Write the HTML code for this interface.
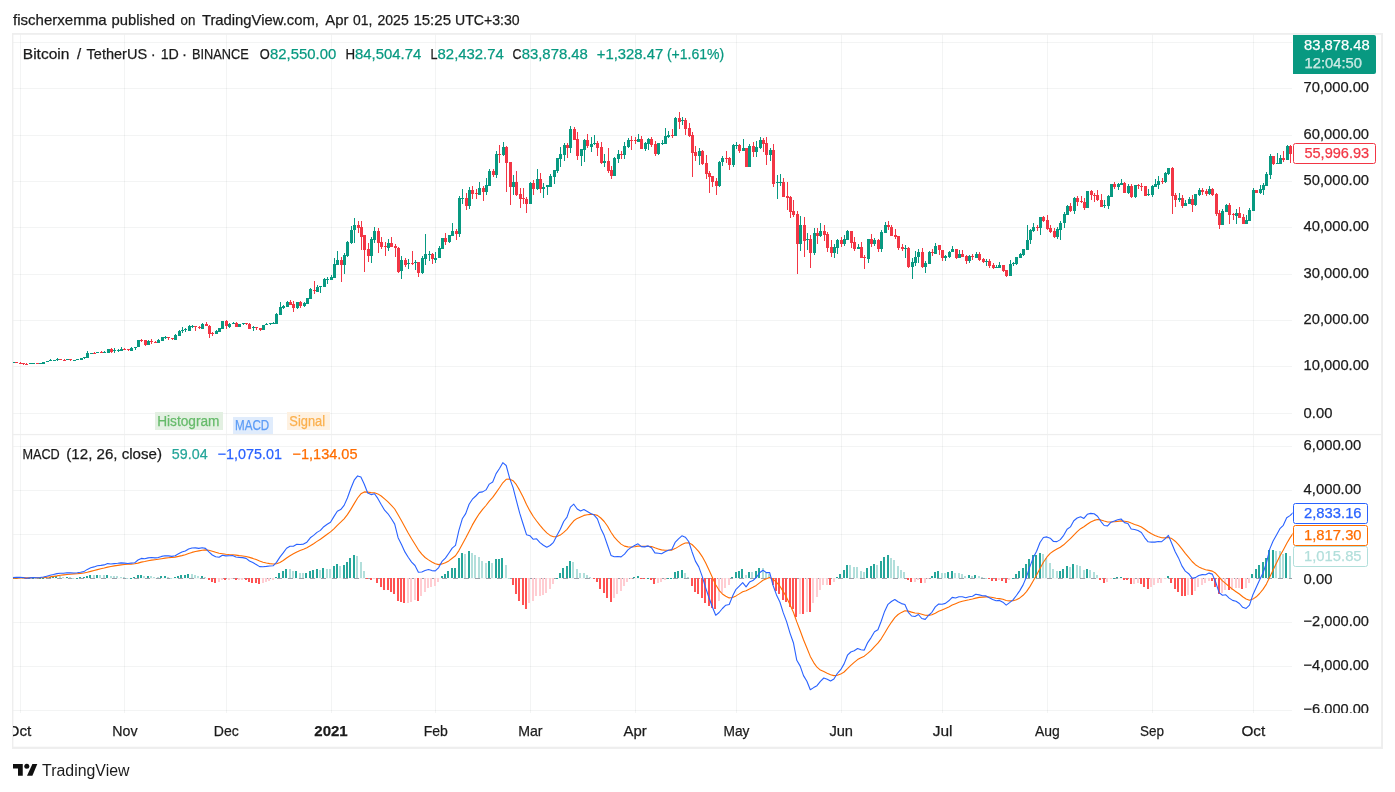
<!DOCTYPE html>
<html><head><meta charset="utf-8"><title>BTCUSDT chart</title><style>html,body{margin:0;padding:0;background:#fff}svg{display:block}</style></head><body>
<svg width="1395" height="792" viewBox="0 0 1395 792" font-family='"Liberation Sans", "DejaVu Sans", sans-serif'>
<rect width="1395" height="792" fill="#fff"/>
<text x="13" y="25" font-size="15" fill="#1b1b1b" stroke="#1b1b1b" stroke-width="0.25" textLength="93.6" lengthAdjust="spacingAndGlyphs">fischerxemma</text>
<text x="111.6" y="25" font-size="15" fill="#1b1b1b" stroke="#1b1b1b" stroke-width="0.25" textLength="63.4" lengthAdjust="spacingAndGlyphs">published</text>
<text x="180.6" y="25" font-size="15" fill="#1b1b1b" stroke="#1b1b1b" stroke-width="0.25" textLength="14.8" lengthAdjust="spacingAndGlyphs">on</text>
<text x="201.9" y="25" font-size="15" fill="#1b1b1b" stroke="#1b1b1b" stroke-width="0.25" textLength="117" lengthAdjust="spacingAndGlyphs">TradingView.com,</text>
<text x="325.2" y="25" font-size="15" fill="#1b1b1b" stroke="#1b1b1b" stroke-width="0.25" textLength="23.2" lengthAdjust="spacingAndGlyphs">Apr</text>
<text x="353.0" y="25" font-size="15" fill="#1b1b1b" stroke="#1b1b1b" stroke-width="0.25" textLength="19.4" lengthAdjust="spacingAndGlyphs">01,</text>
<text x="377.5" y="25" font-size="15" fill="#1b1b1b" stroke="#1b1b1b" stroke-width="0.25" textLength="31.2" lengthAdjust="spacingAndGlyphs">2025</text>
<text x="413.4" y="25" font-size="15" fill="#1b1b1b" stroke="#1b1b1b" stroke-width="0.25" textLength="37.6" lengthAdjust="spacingAndGlyphs">15:25</text>
<text x="455" y="25" font-size="15" fill="#1b1b1b" stroke="#1b1b1b" stroke-width="0.25" textLength="64.6" lengthAdjust="spacingAndGlyphs">UTC+3:30</text>
<g stroke="#2a2e39" stroke-opacity="0.055" stroke-width="1" shape-rendering="crispEdges">
<line x1="20.5" y1="34" x2="20.5" y2="713"/>
<line x1="124.5" y1="34" x2="124.5" y2="713"/>
<line x1="226.5" y1="34" x2="226.5" y2="713"/>
<line x1="331.5" y1="34" x2="331.5" y2="713"/>
<line x1="435.5" y1="34" x2="435.5" y2="713"/>
<line x1="530.5" y1="34" x2="530.5" y2="713"/>
<line x1="635.5" y1="34" x2="635.5" y2="713"/>
<line x1="736.5" y1="34" x2="736.5" y2="713"/>
<line x1="841.5" y1="34" x2="841.5" y2="713"/>
<line x1="942.5" y1="34" x2="942.5" y2="713"/>
<line x1="1047.5" y1="34" x2="1047.5" y2="713"/>
<line x1="1152.5" y1="34" x2="1152.5" y2="713"/>
<line x1="1253.5" y1="34" x2="1253.5" y2="713"/>
<line x1="13" y1="413.5" x2="1292" y2="413.5"/>
<line x1="13" y1="366.5" x2="1292" y2="366.5"/>
<line x1="13" y1="320.5" x2="1292" y2="320.5"/>
<line x1="13" y1="274.5" x2="1292" y2="274.5"/>
<line x1="13" y1="227.5" x2="1292" y2="227.5"/>
<line x1="13" y1="181.5" x2="1292" y2="181.5"/>
<line x1="13" y1="135.5" x2="1292" y2="135.5"/>
<line x1="13" y1="88.5" x2="1292" y2="88.5"/>
<line x1="13" y1="42.5" x2="1292" y2="42.5"/>
<line x1="13" y1="710.5" x2="1292" y2="710.5"/>
<line x1="13" y1="666.5" x2="1292" y2="666.5"/>
<line x1="13" y1="622.5" x2="1292" y2="622.5"/>
<line x1="13" y1="578.5" x2="1292" y2="578.5"/>
<line x1="13" y1="534.5" x2="1292" y2="534.5"/>
<line x1="13" y1="490.5" x2="1292" y2="490.5"/>
<line x1="13" y1="446.5" x2="1292" y2="446.5"/>
</g>
<g fill="none" stroke="#eeeeee">
</g>
<g fill="#eeeeee"><rect x="12" y="33" width="1371" height="1.8"/><rect x="12" y="746.7" width="1371" height="2.2"/><rect x="12" y="33" width="1.4" height="715.9"/><rect x="1381.1" y="33" width="1.9" height="715.9"/><rect x="13" y="433.9" width="1369" height="1.3"/></g>
<g shape-rendering="crispEdges">
<rect x="13" y="362" width="2" height="1" fill="#089981"/>
<rect x="15" y="362" width="3" height="1" fill="#f23645"/>
<rect x="20" y="362" width="1" height="2" fill="#f23645"/>
<rect x="19" y="363" width="3" height="1" fill="#f23645"/>
<rect x="23" y="363" width="1" height="2" fill="#f23645"/>
<rect x="22" y="363" width="3" height="1" fill="#f23645"/>
<rect x="26" y="363" width="1" height="2" fill="#f23645"/>
<rect x="25" y="364" width="3" height="1" fill="#f23645"/>
<rect x="29" y="363" width="3" height="1" fill="#089981"/>
<rect x="32" y="363" width="3" height="1" fill="#089981"/>
<rect x="36" y="363" width="3" height="1" fill="#f23645"/>
<rect x="39" y="363" width="3" height="1" fill="#089981"/>
<rect x="42" y="362" width="3" height="2" fill="#089981"/>
<rect x="46" y="361" width="3" height="1" fill="#089981"/>
<rect x="50" y="359" width="1" height="2" fill="#089981"/>
<rect x="49" y="360" width="3" height="1" fill="#089981"/>
<rect x="53" y="360" width="3" height="1" fill="#089981"/>
<rect x="57" y="358" width="1" height="3" fill="#089981"/>
<rect x="56" y="359" width="3" height="1" fill="#089981"/>
<rect x="59" y="359" width="3" height="1" fill="#f23645"/>
<rect x="64" y="359" width="1" height="2" fill="#f23645"/>
<rect x="63" y="360" width="3" height="1" fill="#f23645"/>
<rect x="66" y="359" width="3" height="1" fill="#089981"/>
<rect x="70" y="359" width="1" height="2" fill="#f23645"/>
<rect x="69" y="359" width="3" height="1" fill="#f23645"/>
<rect x="73" y="360" width="3" height="1" fill="#089981"/>
<rect x="76" y="359" width="3" height="1" fill="#089981"/>
<rect x="80" y="358" width="3" height="2" fill="#089981"/>
<rect x="84" y="357" width="1" height="2" fill="#089981"/>
<rect x="83" y="357" width="3" height="1" fill="#089981"/>
<rect x="87" y="351" width="1" height="7" fill="#089981"/>
<rect x="86" y="353" width="3" height="5" fill="#089981"/>
<rect x="90" y="353" width="3" height="1" fill="#089981"/>
<rect x="94" y="352" width="1" height="2" fill="#f23645"/>
<rect x="93" y="353" width="3" height="1" fill="#f23645"/>
<rect x="96" y="352" width="3" height="1" fill="#089981"/>
<rect x="101" y="351" width="1" height="2" fill="#f23645"/>
<rect x="100" y="352" width="3" height="1" fill="#f23645"/>
<rect x="104" y="351" width="1" height="2" fill="#089981"/>
<rect x="103" y="352" width="3" height="1" fill="#089981"/>
<rect x="107" y="349" width="3" height="4" fill="#089981"/>
<rect x="111" y="348" width="1" height="5" fill="#f23645"/>
<rect x="110" y="349" width="3" height="3" fill="#f23645"/>
<rect x="114" y="348" width="1" height="5" fill="#089981"/>
<rect x="113" y="350" width="3" height="1" fill="#089981"/>
<rect x="118" y="349" width="1" height="3" fill="#089981"/>
<rect x="117" y="350" width="3" height="1" fill="#089981"/>
<rect x="121" y="347" width="1" height="4" fill="#089981"/>
<rect x="120" y="349" width="3" height="2" fill="#089981"/>
<rect x="124" y="348" width="1" height="2" fill="#f23645"/>
<rect x="123" y="349" width="3" height="1" fill="#f23645"/>
<rect x="128" y="349" width="1" height="2" fill="#f23645"/>
<rect x="127" y="349" width="3" height="1" fill="#f23645"/>
<rect x="131" y="347" width="1" height="4" fill="#089981"/>
<rect x="130" y="348" width="3" height="3" fill="#089981"/>
<rect x="135" y="347" width="1" height="3" fill="#089981"/>
<rect x="134" y="347" width="3" height="1" fill="#089981"/>
<rect x="137" y="340" width="3" height="7" fill="#089981"/>
<rect x="141" y="339" width="1" height="3" fill="#f23645"/>
<rect x="140" y="340" width="3" height="1" fill="#f23645"/>
<rect x="145" y="340" width="1" height="6" fill="#f23645"/>
<rect x="144" y="340" width="3" height="5" fill="#f23645"/>
<rect x="148" y="340" width="1" height="5" fill="#089981"/>
<rect x="147" y="341" width="3" height="4" fill="#089981"/>
<rect x="151" y="339" width="1" height="5" fill="#f23645"/>
<rect x="150" y="341" width="3" height="1" fill="#f23645"/>
<rect x="155" y="341" width="1" height="2" fill="#f23645"/>
<rect x="154" y="342" width="3" height="1" fill="#f23645"/>
<rect x="158" y="339" width="1" height="4" fill="#089981"/>
<rect x="157" y="340" width="3" height="3" fill="#089981"/>
<rect x="161" y="337" width="3" height="4" fill="#089981"/>
<rect x="165" y="336" width="1" height="3" fill="#089981"/>
<rect x="164" y="337" width="3" height="1" fill="#089981"/>
<rect x="168" y="337" width="1" height="3" fill="#f23645"/>
<rect x="167" y="337" width="3" height="1" fill="#f23645"/>
<rect x="172" y="338" width="1" height="2" fill="#f23645"/>
<rect x="171" y="338" width="3" height="1" fill="#f23645"/>
<rect x="175" y="334" width="1" height="6" fill="#089981"/>
<rect x="174" y="335" width="3" height="5" fill="#089981"/>
<rect x="179" y="330" width="1" height="6" fill="#089981"/>
<rect x="178" y="331" width="3" height="5" fill="#089981"/>
<rect x="182" y="327" width="1" height="6" fill="#089981"/>
<rect x="181" y="330" width="3" height="1" fill="#089981"/>
<rect x="185" y="328" width="1" height="4" fill="#089981"/>
<rect x="184" y="329" width="3" height="1" fill="#089981"/>
<rect x="189" y="325" width="1" height="6" fill="#089981"/>
<rect x="188" y="326" width="3" height="5" fill="#089981"/>
<rect x="192" y="325" width="1" height="3" fill="#089981"/>
<rect x="191" y="326" width="3" height="1" fill="#089981"/>
<rect x="195" y="326" width="1" height="5" fill="#f23645"/>
<rect x="194" y="326" width="3" height="1" fill="#f23645"/>
<rect x="199" y="326" width="1" height="3" fill="#f23645"/>
<rect x="198" y="327" width="3" height="1" fill="#f23645"/>
<rect x="202" y="323" width="1" height="6" fill="#089981"/>
<rect x="201" y="324" width="3" height="5" fill="#089981"/>
<rect x="206" y="322" width="1" height="4" fill="#f23645"/>
<rect x="205" y="324" width="3" height="2" fill="#f23645"/>
<rect x="209" y="325" width="1" height="13" fill="#f23645"/>
<rect x="208" y="326" width="3" height="8" fill="#f23645"/>
<rect x="212" y="332" width="1" height="4" fill="#f23645"/>
<rect x="211" y="333" width="3" height="1" fill="#f23645"/>
<rect x="216" y="330" width="1" height="4" fill="#089981"/>
<rect x="215" y="331" width="3" height="3" fill="#089981"/>
<rect x="218" y="328" width="3" height="4" fill="#089981"/>
<rect x="221" y="321" width="3" height="8" fill="#089981"/>
<rect x="226" y="320" width="1" height="9" fill="#f23645"/>
<rect x="225" y="321" width="3" height="5" fill="#f23645"/>
<rect x="229" y="323" width="1" height="5" fill="#089981"/>
<rect x="228" y="324" width="3" height="3" fill="#089981"/>
<rect x="233" y="322" width="1" height="2" fill="#089981"/>
<rect x="232" y="323" width="3" height="1" fill="#089981"/>
<rect x="236" y="322" width="1" height="5" fill="#f23645"/>
<rect x="235" y="323" width="3" height="4" fill="#f23645"/>
<rect x="238" y="324" width="3" height="3" fill="#089981"/>
<rect x="243" y="323" width="1" height="2" fill="#089981"/>
<rect x="242" y="323" width="3" height="1" fill="#089981"/>
<rect x="246" y="323" width="1" height="2" fill="#f23645"/>
<rect x="245" y="323" width="3" height="1" fill="#f23645"/>
<rect x="249" y="323" width="1" height="6" fill="#f23645"/>
<rect x="248" y="324" width="3" height="5" fill="#f23645"/>
<rect x="253" y="326" width="1" height="5" fill="#089981"/>
<rect x="252" y="327" width="3" height="1" fill="#089981"/>
<rect x="256" y="327" width="1" height="3" fill="#f23645"/>
<rect x="255" y="327" width="3" height="1" fill="#f23645"/>
<rect x="260" y="328" width="1" height="3" fill="#f23645"/>
<rect x="259" y="328" width="3" height="2" fill="#f23645"/>
<rect x="262" y="325" width="3" height="5" fill="#089981"/>
<rect x="266" y="323" width="1" height="2" fill="#089981"/>
<rect x="265" y="324" width="3" height="1" fill="#089981"/>
<rect x="270" y="323" width="1" height="2" fill="#089981"/>
<rect x="269" y="323" width="3" height="1" fill="#089981"/>
<rect x="273" y="322" width="1" height="2" fill="#089981"/>
<rect x="272" y="323" width="3" height="1" fill="#089981"/>
<rect x="276" y="313" width="1" height="11" fill="#089981"/>
<rect x="275" y="314" width="3" height="10" fill="#089981"/>
<rect x="280" y="302" width="1" height="13" fill="#089981"/>
<rect x="279" y="307" width="3" height="8" fill="#089981"/>
<rect x="283" y="305" width="1" height="4" fill="#089981"/>
<rect x="282" y="306" width="3" height="2" fill="#089981"/>
<rect x="287" y="301" width="1" height="6" fill="#089981"/>
<rect x="286" y="302" width="3" height="5" fill="#089981"/>
<rect x="290" y="300" width="1" height="5" fill="#f23645"/>
<rect x="289" y="302" width="3" height="3" fill="#f23645"/>
<rect x="293" y="301" width="1" height="11" fill="#f23645"/>
<rect x="292" y="304" width="3" height="4" fill="#f23645"/>
<rect x="297" y="302" width="1" height="7" fill="#089981"/>
<rect x="296" y="302" width="3" height="6" fill="#089981"/>
<rect x="300" y="301" width="1" height="7" fill="#f23645"/>
<rect x="299" y="302" width="3" height="4" fill="#f23645"/>
<rect x="304" y="302" width="1" height="5" fill="#089981"/>
<rect x="303" y="303" width="3" height="3" fill="#089981"/>
<rect x="306" y="298" width="3" height="6" fill="#089981"/>
<rect x="310" y="288" width="1" height="11" fill="#089981"/>
<rect x="309" y="289" width="3" height="10" fill="#089981"/>
<rect x="314" y="281" width="1" height="13" fill="#f23645"/>
<rect x="313" y="290" width="3" height="1" fill="#f23645"/>
<rect x="317" y="285" width="1" height="7" fill="#089981"/>
<rect x="316" y="287" width="3" height="5" fill="#089981"/>
<rect x="320" y="286" width="1" height="7" fill="#089981"/>
<rect x="319" y="286" width="3" height="1" fill="#089981"/>
<rect x="324" y="278" width="1" height="9" fill="#089981"/>
<rect x="323" y="279" width="3" height="8" fill="#089981"/>
<rect x="327" y="277" width="1" height="7" fill="#089981"/>
<rect x="326" y="279" width="3" height="1" fill="#089981"/>
<rect x="331" y="275" width="1" height="5" fill="#089981"/>
<rect x="330" y="277" width="3" height="3" fill="#089981"/>
<rect x="334" y="258" width="1" height="20" fill="#089981"/>
<rect x="333" y="264" width="3" height="14" fill="#089981"/>
<rect x="337" y="251" width="1" height="14" fill="#089981"/>
<rect x="336" y="260" width="3" height="5" fill="#089981"/>
<rect x="341" y="257" width="1" height="25" fill="#f23645"/>
<rect x="340" y="260" width="3" height="5" fill="#f23645"/>
<rect x="344" y="253" width="1" height="21" fill="#089981"/>
<rect x="343" y="255" width="3" height="10" fill="#089981"/>
<rect x="347" y="241" width="1" height="16" fill="#089981"/>
<rect x="346" y="242" width="3" height="14" fill="#089981"/>
<rect x="351" y="226" width="1" height="18" fill="#089981"/>
<rect x="350" y="230" width="3" height="13" fill="#089981"/>
<rect x="354" y="218" width="1" height="25" fill="#089981"/>
<rect x="353" y="225" width="3" height="5" fill="#089981"/>
<rect x="358" y="221" width="1" height="12" fill="#f23645"/>
<rect x="357" y="225" width="3" height="3" fill="#f23645"/>
<rect x="361" y="221" width="1" height="29" fill="#f23645"/>
<rect x="360" y="227" width="3" height="10" fill="#f23645"/>
<rect x="364" y="235" width="1" height="37" fill="#f23645"/>
<rect x="363" y="235" width="3" height="15" fill="#f23645"/>
<rect x="368" y="243" width="1" height="19" fill="#f23645"/>
<rect x="367" y="249" width="3" height="7" fill="#f23645"/>
<rect x="371" y="237" width="1" height="26" fill="#089981"/>
<rect x="370" y="239" width="3" height="17" fill="#089981"/>
<rect x="374" y="227" width="1" height="16" fill="#089981"/>
<rect x="373" y="231" width="3" height="9" fill="#089981"/>
<rect x="378" y="228" width="1" height="25" fill="#f23645"/>
<rect x="377" y="231" width="3" height="12" fill="#f23645"/>
<rect x="381" y="237" width="1" height="12" fill="#f23645"/>
<rect x="380" y="242" width="3" height="5" fill="#f23645"/>
<rect x="385" y="242" width="1" height="14" fill="#f23645"/>
<rect x="384" y="246" width="3" height="1" fill="#f23645"/>
<rect x="388" y="239" width="1" height="12" fill="#089981"/>
<rect x="387" y="243" width="3" height="5" fill="#089981"/>
<rect x="391" y="237" width="1" height="10" fill="#f23645"/>
<rect x="390" y="243" width="3" height="4" fill="#f23645"/>
<rect x="395" y="244" width="1" height="13" fill="#f23645"/>
<rect x="394" y="246" width="3" height="2" fill="#f23645"/>
<rect x="398" y="247" width="1" height="26" fill="#f23645"/>
<rect x="397" y="248" width="3" height="24" fill="#f23645"/>
<rect x="401" y="256" width="1" height="23" fill="#089981"/>
<rect x="400" y="260" width="3" height="11" fill="#089981"/>
<rect x="405" y="258" width="1" height="9" fill="#f23645"/>
<rect x="404" y="260" width="3" height="5" fill="#f23645"/>
<rect x="408" y="259" width="1" height="10" fill="#089981"/>
<rect x="407" y="263" width="3" height="1" fill="#089981"/>
<rect x="412" y="251" width="1" height="14" fill="#f23645"/>
<rect x="411" y="263" width="3" height="1" fill="#f23645"/>
<rect x="415" y="260" width="1" height="10" fill="#089981"/>
<rect x="414" y="262" width="3" height="1" fill="#089981"/>
<rect x="418" y="262" width="1" height="15" fill="#f23645"/>
<rect x="417" y="262" width="3" height="11" fill="#f23645"/>
<rect x="422" y="256" width="1" height="18" fill="#089981"/>
<rect x="421" y="258" width="3" height="15" fill="#089981"/>
<rect x="425" y="234" width="1" height="31" fill="#089981"/>
<rect x="424" y="254" width="3" height="5" fill="#089981"/>
<rect x="429" y="251" width="1" height="10" fill="#089981"/>
<rect x="428" y="254" width="3" height="1" fill="#089981"/>
<rect x="432" y="253" width="1" height="11" fill="#f23645"/>
<rect x="431" y="254" width="3" height="5" fill="#f23645"/>
<rect x="435" y="252" width="1" height="11" fill="#089981"/>
<rect x="434" y="258" width="3" height="2" fill="#089981"/>
<rect x="439" y="246" width="1" height="12" fill="#089981"/>
<rect x="438" y="248" width="3" height="10" fill="#089981"/>
<rect x="441" y="238" width="3" height="11" fill="#089981"/>
<rect x="445" y="233" width="1" height="12" fill="#f23645"/>
<rect x="444" y="238" width="3" height="4" fill="#f23645"/>
<rect x="449" y="235" width="1" height="8" fill="#089981"/>
<rect x="448" y="235" width="3" height="7" fill="#089981"/>
<rect x="452" y="223" width="1" height="13" fill="#089981"/>
<rect x="451" y="231" width="3" height="5" fill="#089981"/>
<rect x="456" y="229" width="1" height="11" fill="#f23645"/>
<rect x="455" y="231" width="3" height="3" fill="#f23645"/>
<rect x="459" y="196" width="1" height="41" fill="#089981"/>
<rect x="458" y="198" width="3" height="36" fill="#089981"/>
<rect x="462" y="189" width="1" height="15" fill="#089981"/>
<rect x="461" y="198" width="3" height="1" fill="#089981"/>
<rect x="466" y="193" width="1" height="17" fill="#f23645"/>
<rect x="465" y="198" width="3" height="8" fill="#f23645"/>
<rect x="469" y="187" width="1" height="22" fill="#089981"/>
<rect x="468" y="190" width="3" height="16" fill="#089981"/>
<rect x="472" y="186" width="1" height="13" fill="#f23645"/>
<rect x="471" y="190" width="3" height="4" fill="#f23645"/>
<rect x="476" y="189" width="1" height="10" fill="#f23645"/>
<rect x="475" y="193" width="3" height="1" fill="#f23645"/>
<rect x="479" y="182" width="1" height="13" fill="#089981"/>
<rect x="478" y="188" width="3" height="7" fill="#089981"/>
<rect x="483" y="186" width="1" height="15" fill="#f23645"/>
<rect x="482" y="188" width="3" height="4" fill="#f23645"/>
<rect x="486" y="178" width="1" height="17" fill="#089981"/>
<rect x="485" y="185" width="3" height="7" fill="#089981"/>
<rect x="489" y="169" width="1" height="17" fill="#089981"/>
<rect x="488" y="171" width="3" height="15" fill="#089981"/>
<rect x="493" y="169" width="1" height="8" fill="#f23645"/>
<rect x="492" y="171" width="3" height="4" fill="#f23645"/>
<rect x="496" y="151" width="1" height="27" fill="#089981"/>
<rect x="495" y="154" width="3" height="21" fill="#089981"/>
<rect x="499" y="145" width="1" height="18" fill="#f23645"/>
<rect x="498" y="154" width="3" height="1" fill="#f23645"/>
<rect x="503" y="142" width="1" height="14" fill="#089981"/>
<rect x="502" y="147" width="3" height="8" fill="#089981"/>
<rect x="506" y="146" width="1" height="46" fill="#f23645"/>
<rect x="505" y="147" width="3" height="16" fill="#f23645"/>
<rect x="510" y="162" width="1" height="43" fill="#f23645"/>
<rect x="509" y="162" width="3" height="25" fill="#f23645"/>
<rect x="513" y="175" width="1" height="20" fill="#089981"/>
<rect x="512" y="182" width="3" height="5" fill="#089981"/>
<rect x="516" y="171" width="1" height="25" fill="#f23645"/>
<rect x="515" y="182" width="3" height="13" fill="#f23645"/>
<rect x="520" y="188" width="1" height="20" fill="#f23645"/>
<rect x="519" y="194" width="3" height="5" fill="#f23645"/>
<rect x="523" y="188" width="1" height="16" fill="#f23645"/>
<rect x="522" y="198" width="3" height="1" fill="#f23645"/>
<rect x="526" y="197" width="1" height="16" fill="#f23645"/>
<rect x="525" y="199" width="3" height="5" fill="#f23645"/>
<rect x="530" y="182" width="1" height="22" fill="#089981"/>
<rect x="529" y="183" width="3" height="21" fill="#089981"/>
<rect x="533" y="180" width="1" height="15" fill="#f23645"/>
<rect x="532" y="183" width="3" height="6" fill="#f23645"/>
<rect x="537" y="169" width="1" height="21" fill="#089981"/>
<rect x="536" y="179" width="3" height="10" fill="#089981"/>
<rect x="540" y="173" width="1" height="20" fill="#f23645"/>
<rect x="539" y="179" width="3" height="10" fill="#f23645"/>
<rect x="543" y="183" width="1" height="15" fill="#089981"/>
<rect x="542" y="187" width="3" height="2" fill="#089981"/>
<rect x="547" y="185" width="1" height="10" fill="#089981"/>
<rect x="546" y="185" width="3" height="2" fill="#089981"/>
<rect x="550" y="174" width="1" height="13" fill="#089981"/>
<rect x="549" y="176" width="3" height="11" fill="#089981"/>
<rect x="554" y="170" width="1" height="14" fill="#089981"/>
<rect x="553" y="170" width="3" height="7" fill="#089981"/>
<rect x="557" y="158" width="1" height="15" fill="#089981"/>
<rect x="556" y="158" width="3" height="13" fill="#089981"/>
<rect x="560" y="147" width="1" height="20" fill="#089981"/>
<rect x="559" y="154" width="3" height="5" fill="#089981"/>
<rect x="564" y="143" width="1" height="18" fill="#089981"/>
<rect x="563" y="145" width="3" height="10" fill="#089981"/>
<rect x="567" y="143" width="1" height="15" fill="#f23645"/>
<rect x="566" y="145" width="3" height="3" fill="#f23645"/>
<rect x="570" y="126" width="1" height="27" fill="#089981"/>
<rect x="569" y="129" width="3" height="19" fill="#089981"/>
<rect x="574" y="127" width="1" height="13" fill="#f23645"/>
<rect x="573" y="129" width="3" height="11" fill="#f23645"/>
<rect x="577" y="132" width="1" height="28" fill="#f23645"/>
<rect x="576" y="139" width="3" height="17" fill="#f23645"/>
<rect x="581" y="149" width="1" height="17" fill="#089981"/>
<rect x="580" y="149" width="3" height="7" fill="#089981"/>
<rect x="584" y="139" width="1" height="23" fill="#089981"/>
<rect x="583" y="140" width="3" height="10" fill="#089981"/>
<rect x="587" y="134" width="1" height="14" fill="#f23645"/>
<rect x="586" y="140" width="3" height="6" fill="#f23645"/>
<rect x="591" y="137" width="1" height="15" fill="#089981"/>
<rect x="590" y="144" width="3" height="3" fill="#089981"/>
<rect x="594" y="135" width="1" height="10" fill="#089981"/>
<rect x="593" y="143" width="3" height="1" fill="#089981"/>
<rect x="597" y="141" width="1" height="15" fill="#f23645"/>
<rect x="596" y="143" width="3" height="5" fill="#f23645"/>
<rect x="601" y="142" width="1" height="22" fill="#f23645"/>
<rect x="600" y="147" width="3" height="16" fill="#f23645"/>
<rect x="604" y="154" width="1" height="13" fill="#089981"/>
<rect x="603" y="161" width="3" height="2" fill="#089981"/>
<rect x="608" y="148" width="1" height="25" fill="#f23645"/>
<rect x="607" y="161" width="3" height="10" fill="#f23645"/>
<rect x="611" y="166" width="1" height="13" fill="#f23645"/>
<rect x="610" y="170" width="3" height="6" fill="#f23645"/>
<rect x="614" y="157" width="1" height="19" fill="#089981"/>
<rect x="613" y="158" width="3" height="18" fill="#089981"/>
<rect x="618" y="150" width="1" height="13" fill="#089981"/>
<rect x="617" y="154" width="3" height="5" fill="#089981"/>
<rect x="621" y="151" width="1" height="8" fill="#f23645"/>
<rect x="620" y="154" width="3" height="1" fill="#f23645"/>
<rect x="624" y="142" width="1" height="17" fill="#089981"/>
<rect x="623" y="146" width="3" height="9" fill="#089981"/>
<rect x="628" y="138" width="1" height="10" fill="#089981"/>
<rect x="627" y="140" width="3" height="7" fill="#089981"/>
<rect x="631" y="136" width="1" height="14" fill="#f23645"/>
<rect x="630" y="140" width="3" height="1" fill="#f23645"/>
<rect x="635" y="137" width="1" height="7" fill="#f23645"/>
<rect x="634" y="140" width="3" height="1" fill="#f23645"/>
<rect x="638" y="134" width="1" height="8" fill="#089981"/>
<rect x="637" y="139" width="3" height="3" fill="#089981"/>
<rect x="641" y="136" width="1" height="13" fill="#f23645"/>
<rect x="640" y="139" width="3" height="10" fill="#f23645"/>
<rect x="645" y="142" width="1" height="9" fill="#089981"/>
<rect x="644" y="143" width="3" height="6" fill="#089981"/>
<rect x="648" y="138" width="1" height="12" fill="#089981"/>
<rect x="647" y="139" width="3" height="5" fill="#089981"/>
<rect x="651" y="137" width="1" height="10" fill="#f23645"/>
<rect x="650" y="139" width="3" height="6" fill="#f23645"/>
<rect x="655" y="141" width="1" height="15" fill="#f23645"/>
<rect x="654" y="144" width="3" height="10" fill="#f23645"/>
<rect x="658" y="143" width="1" height="12" fill="#089981"/>
<rect x="657" y="143" width="3" height="11" fill="#089981"/>
<rect x="662" y="140" width="1" height="5" fill="#089981"/>
<rect x="661" y="143" width="3" height="1" fill="#089981"/>
<rect x="665" y="128" width="1" height="16" fill="#089981"/>
<rect x="664" y="136" width="3" height="8" fill="#089981"/>
<rect x="668" y="131" width="1" height="7" fill="#089981"/>
<rect x="667" y="135" width="3" height="2" fill="#089981"/>
<rect x="672" y="129" width="1" height="9" fill="#f23645"/>
<rect x="671" y="135" width="3" height="1" fill="#f23645"/>
<rect x="675" y="117" width="1" height="19" fill="#089981"/>
<rect x="674" y="118" width="3" height="18" fill="#089981"/>
<rect x="679" y="112" width="1" height="17" fill="#f23645"/>
<rect x="678" y="118" width="3" height="4" fill="#f23645"/>
<rect x="682" y="117" width="1" height="8" fill="#089981"/>
<rect x="681" y="120" width="3" height="1" fill="#089981"/>
<rect x="685" y="118" width="1" height="17" fill="#f23645"/>
<rect x="684" y="120" width="3" height="9" fill="#f23645"/>
<rect x="689" y="123" width="1" height="14" fill="#f23645"/>
<rect x="688" y="128" width="3" height="8" fill="#f23645"/>
<rect x="692" y="132" width="1" height="45" fill="#f23645"/>
<rect x="691" y="135" width="3" height="18" fill="#f23645"/>
<rect x="695" y="146" width="1" height="15" fill="#f23645"/>
<rect x="694" y="152" width="3" height="4" fill="#f23645"/>
<rect x="699" y="148" width="1" height="17" fill="#089981"/>
<rect x="698" y="151" width="3" height="5" fill="#089981"/>
<rect x="702" y="150" width="1" height="15" fill="#f23645"/>
<rect x="701" y="151" width="3" height="13" fill="#f23645"/>
<rect x="706" y="155" width="1" height="24" fill="#f23645"/>
<rect x="705" y="163" width="3" height="11" fill="#f23645"/>
<rect x="709" y="171" width="1" height="22" fill="#f23645"/>
<rect x="708" y="173" width="3" height="4" fill="#f23645"/>
<rect x="712" y="176" width="1" height="11" fill="#f23645"/>
<rect x="711" y="176" width="3" height="6" fill="#f23645"/>
<rect x="716" y="178" width="1" height="17" fill="#f23645"/>
<rect x="715" y="181" width="3" height="5" fill="#f23645"/>
<rect x="719" y="161" width="1" height="26" fill="#089981"/>
<rect x="718" y="162" width="3" height="24" fill="#089981"/>
<rect x="722" y="156" width="1" height="10" fill="#089981"/>
<rect x="721" y="158" width="3" height="4" fill="#089981"/>
<rect x="726" y="151" width="1" height="12" fill="#f23645"/>
<rect x="725" y="158" width="3" height="1" fill="#f23645"/>
<rect x="729" y="157" width="1" height="13" fill="#f23645"/>
<rect x="728" y="158" width="3" height="7" fill="#f23645"/>
<rect x="733" y="144" width="1" height="23" fill="#089981"/>
<rect x="732" y="145" width="3" height="20" fill="#089981"/>
<rect x="736" y="142" width="1" height="7" fill="#089981"/>
<rect x="735" y="145" width="3" height="1" fill="#089981"/>
<rect x="739" y="144" width="1" height="9" fill="#f23645"/>
<rect x="738" y="145" width="3" height="6" fill="#f23645"/>
<rect x="743" y="139" width="1" height="12" fill="#089981"/>
<rect x="742" y="148" width="3" height="3" fill="#089981"/>
<rect x="745" y="148" width="3" height="19" fill="#f23645"/>
<rect x="749" y="144" width="1" height="23" fill="#089981"/>
<rect x="748" y="146" width="3" height="21" fill="#089981"/>
<rect x="753" y="142" width="1" height="15" fill="#f23645"/>
<rect x="752" y="146" width="3" height="6" fill="#f23645"/>
<rect x="756" y="141" width="1" height="16" fill="#089981"/>
<rect x="755" y="147" width="3" height="5" fill="#089981"/>
<rect x="760" y="137" width="1" height="12" fill="#089981"/>
<rect x="759" y="140" width="3" height="8" fill="#089981"/>
<rect x="763" y="138" width="1" height="14" fill="#f23645"/>
<rect x="762" y="140" width="3" height="4" fill="#f23645"/>
<rect x="766" y="137" width="1" height="28" fill="#f23645"/>
<rect x="765" y="143" width="3" height="12" fill="#f23645"/>
<rect x="770" y="148" width="1" height="13" fill="#089981"/>
<rect x="769" y="150" width="3" height="5" fill="#089981"/>
<rect x="773" y="144" width="1" height="43" fill="#f23645"/>
<rect x="772" y="150" width="3" height="34" fill="#f23645"/>
<rect x="777" y="175" width="1" height="24" fill="#089981"/>
<rect x="776" y="182" width="3" height="1" fill="#089981"/>
<rect x="780" y="174" width="1" height="12" fill="#089981"/>
<rect x="779" y="182" width="3" height="1" fill="#089981"/>
<rect x="783" y="178" width="1" height="19" fill="#f23645"/>
<rect x="782" y="182" width="3" height="15" fill="#f23645"/>
<rect x="787" y="182" width="1" height="28" fill="#f23645"/>
<rect x="786" y="196" width="3" height="2" fill="#f23645"/>
<rect x="790" y="196" width="1" height="22" fill="#f23645"/>
<rect x="789" y="197" width="3" height="15" fill="#f23645"/>
<rect x="793" y="200" width="1" height="17" fill="#f23645"/>
<rect x="792" y="211" width="3" height="4" fill="#f23645"/>
<rect x="797" y="211" width="1" height="63" fill="#f23645"/>
<rect x="796" y="214" width="3" height="30" fill="#f23645"/>
<rect x="800" y="216" width="1" height="35" fill="#089981"/>
<rect x="799" y="225" width="3" height="19" fill="#089981"/>
<rect x="804" y="217" width="1" height="40" fill="#f23645"/>
<rect x="803" y="225" width="3" height="16" fill="#f23645"/>
<rect x="807" y="233" width="1" height="17" fill="#089981"/>
<rect x="806" y="239" width="3" height="1" fill="#089981"/>
<rect x="810" y="235" width="1" height="33" fill="#f23645"/>
<rect x="809" y="239" width="3" height="14" fill="#f23645"/>
<rect x="814" y="228" width="1" height="27" fill="#089981"/>
<rect x="813" y="233" width="3" height="20" fill="#089981"/>
<rect x="817" y="228" width="1" height="16" fill="#f23645"/>
<rect x="816" y="233" width="3" height="3" fill="#f23645"/>
<rect x="820" y="223" width="1" height="14" fill="#089981"/>
<rect x="819" y="231" width="3" height="5" fill="#089981"/>
<rect x="824" y="225" width="1" height="16" fill="#f23645"/>
<rect x="823" y="231" width="3" height="4" fill="#f23645"/>
<rect x="827" y="232" width="1" height="20" fill="#f23645"/>
<rect x="826" y="234" width="3" height="14" fill="#f23645"/>
<rect x="831" y="240" width="1" height="17" fill="#f23645"/>
<rect x="830" y="247" width="3" height="6" fill="#f23645"/>
<rect x="834" y="244" width="1" height="14" fill="#089981"/>
<rect x="833" y="247" width="3" height="6" fill="#089981"/>
<rect x="837" y="239" width="1" height="15" fill="#089981"/>
<rect x="836" y="240" width="3" height="8" fill="#089981"/>
<rect x="841" y="237" width="1" height="10" fill="#f23645"/>
<rect x="840" y="240" width="3" height="4" fill="#f23645"/>
<rect x="844" y="235" width="1" height="11" fill="#089981"/>
<rect x="843" y="239" width="3" height="5" fill="#089981"/>
<rect x="847" y="230" width="1" height="10" fill="#089981"/>
<rect x="846" y="231" width="3" height="9" fill="#089981"/>
<rect x="851" y="231" width="1" height="17" fill="#f23645"/>
<rect x="850" y="231" width="3" height="12" fill="#f23645"/>
<rect x="854" y="237" width="1" height="14" fill="#f23645"/>
<rect x="853" y="242" width="3" height="7" fill="#f23645"/>
<rect x="858" y="244" width="1" height="5" fill="#089981"/>
<rect x="857" y="247" width="3" height="2" fill="#089981"/>
<rect x="861" y="242" width="1" height="16" fill="#f23645"/>
<rect x="860" y="247" width="3" height="11" fill="#f23645"/>
<rect x="864" y="255" width="1" height="14" fill="#f23645"/>
<rect x="863" y="257" width="3" height="1" fill="#f23645"/>
<rect x="868" y="239" width="1" height="24" fill="#089981"/>
<rect x="867" y="239" width="3" height="20" fill="#089981"/>
<rect x="871" y="234" width="1" height="13" fill="#f23645"/>
<rect x="870" y="239" width="3" height="5" fill="#f23645"/>
<rect x="874" y="238" width="1" height="8" fill="#089981"/>
<rect x="873" y="240" width="3" height="4" fill="#089981"/>
<rect x="878" y="239" width="1" height="13" fill="#f23645"/>
<rect x="877" y="240" width="3" height="9" fill="#f23645"/>
<rect x="881" y="230" width="1" height="22" fill="#089981"/>
<rect x="880" y="232" width="3" height="17" fill="#089981"/>
<rect x="885" y="222" width="1" height="11" fill="#089981"/>
<rect x="884" y="225" width="3" height="8" fill="#089981"/>
<rect x="888" y="221" width="1" height="9" fill="#f23645"/>
<rect x="887" y="225" width="3" height="2" fill="#f23645"/>
<rect x="891" y="225" width="1" height="11" fill="#f23645"/>
<rect x="890" y="227" width="3" height="9" fill="#f23645"/>
<rect x="895" y="229" width="1" height="10" fill="#f23645"/>
<rect x="894" y="235" width="3" height="2" fill="#f23645"/>
<rect x="898" y="236" width="1" height="14" fill="#f23645"/>
<rect x="897" y="236" width="3" height="12" fill="#f23645"/>
<rect x="902" y="244" width="1" height="7" fill="#f23645"/>
<rect x="901" y="247" width="3" height="2" fill="#f23645"/>
<rect x="905" y="245" width="1" height="13" fill="#089981"/>
<rect x="904" y="248" width="3" height="1" fill="#089981"/>
<rect x="908" y="247" width="1" height="21" fill="#f23645"/>
<rect x="907" y="248" width="3" height="19" fill="#f23645"/>
<rect x="912" y="258" width="1" height="21" fill="#089981"/>
<rect x="911" y="262" width="3" height="5" fill="#089981"/>
<rect x="915" y="251" width="1" height="15" fill="#089981"/>
<rect x="914" y="257" width="3" height="6" fill="#089981"/>
<rect x="918" y="249" width="1" height="14" fill="#089981"/>
<rect x="917" y="252" width="3" height="5" fill="#089981"/>
<rect x="922" y="248" width="1" height="20" fill="#f23645"/>
<rect x="921" y="252" width="3" height="15" fill="#f23645"/>
<rect x="925" y="261" width="1" height="12" fill="#089981"/>
<rect x="924" y="263" width="3" height="4" fill="#089981"/>
<rect x="929" y="251" width="1" height="13" fill="#089981"/>
<rect x="928" y="252" width="3" height="12" fill="#089981"/>
<rect x="932" y="249" width="1" height="7" fill="#f23645"/>
<rect x="931" y="252" width="3" height="1" fill="#f23645"/>
<rect x="935" y="243" width="1" height="11" fill="#089981"/>
<rect x="934" y="246" width="3" height="8" fill="#089981"/>
<rect x="939" y="245" width="1" height="10" fill="#f23645"/>
<rect x="938" y="245" width="3" height="5" fill="#f23645"/>
<rect x="942" y="250" width="1" height="11" fill="#f23645"/>
<rect x="941" y="250" width="3" height="8" fill="#f23645"/>
<rect x="945" y="255" width="1" height="6" fill="#089981"/>
<rect x="944" y="256" width="3" height="2" fill="#089981"/>
<rect x="949" y="251" width="1" height="7" fill="#089981"/>
<rect x="948" y="252" width="3" height="5" fill="#089981"/>
<rect x="952" y="246" width="1" height="6" fill="#089981"/>
<rect x="951" y="249" width="3" height="3" fill="#089981"/>
<rect x="956" y="249" width="1" height="10" fill="#f23645"/>
<rect x="955" y="249" width="3" height="9" fill="#f23645"/>
<rect x="959" y="250" width="1" height="8" fill="#089981"/>
<rect x="958" y="254" width="3" height="4" fill="#089981"/>
<rect x="962" y="250" width="1" height="7" fill="#f23645"/>
<rect x="961" y="254" width="3" height="3" fill="#f23645"/>
<rect x="966" y="255" width="1" height="9" fill="#f23645"/>
<rect x="965" y="256" width="3" height="5" fill="#f23645"/>
<rect x="969" y="255" width="1" height="8" fill="#089981"/>
<rect x="968" y="256" width="3" height="5" fill="#089981"/>
<rect x="972" y="254" width="1" height="6" fill="#f23645"/>
<rect x="971" y="256" width="3" height="1" fill="#f23645"/>
<rect x="976" y="252" width="1" height="6" fill="#089981"/>
<rect x="975" y="254" width="3" height="4" fill="#089981"/>
<rect x="979" y="252" width="1" height="9" fill="#f23645"/>
<rect x="978" y="254" width="3" height="6" fill="#f23645"/>
<rect x="983" y="258" width="1" height="5" fill="#f23645"/>
<rect x="982" y="259" width="3" height="3" fill="#f23645"/>
<rect x="986" y="259" width="1" height="7" fill="#089981"/>
<rect x="985" y="261" width="3" height="1" fill="#089981"/>
<rect x="989" y="259" width="1" height="9" fill="#f23645"/>
<rect x="988" y="261" width="3" height="5" fill="#f23645"/>
<rect x="993" y="263" width="1" height="6" fill="#f23645"/>
<rect x="992" y="265" width="3" height="3" fill="#f23645"/>
<rect x="996" y="265" width="1" height="3" fill="#089981"/>
<rect x="995" y="267" width="3" height="1" fill="#089981"/>
<rect x="999" y="262" width="1" height="6" fill="#089981"/>
<rect x="998" y="265" width="3" height="3" fill="#089981"/>
<rect x="1003" y="265" width="1" height="7" fill="#f23645"/>
<rect x="1002" y="265" width="3" height="6" fill="#f23645"/>
<rect x="1006" y="270" width="1" height="7" fill="#f23645"/>
<rect x="1005" y="270" width="3" height="6" fill="#f23645"/>
<rect x="1010" y="260" width="1" height="16" fill="#089981"/>
<rect x="1009" y="264" width="3" height="12" fill="#089981"/>
<rect x="1013" y="262" width="1" height="4" fill="#089981"/>
<rect x="1012" y="263" width="3" height="1" fill="#089981"/>
<rect x="1016" y="257" width="1" height="8" fill="#089981"/>
<rect x="1015" y="257" width="3" height="7" fill="#089981"/>
<rect x="1020" y="253" width="1" height="5" fill="#089981"/>
<rect x="1019" y="254" width="3" height="4" fill="#089981"/>
<rect x="1023" y="249" width="1" height="7" fill="#089981"/>
<rect x="1022" y="249" width="3" height="6" fill="#089981"/>
<rect x="1027" y="225" width="1" height="25" fill="#089981"/>
<rect x="1026" y="240" width="3" height="10" fill="#089981"/>
<rect x="1030" y="229" width="1" height="15" fill="#089981"/>
<rect x="1029" y="230" width="3" height="10" fill="#089981"/>
<rect x="1033" y="223" width="1" height="9" fill="#089981"/>
<rect x="1032" y="227" width="3" height="4" fill="#089981"/>
<rect x="1037" y="225" width="1" height="6" fill="#f23645"/>
<rect x="1036" y="227" width="3" height="1" fill="#f23645"/>
<rect x="1040" y="217" width="1" height="18" fill="#089981"/>
<rect x="1039" y="217" width="3" height="11" fill="#089981"/>
<rect x="1043" y="216" width="1" height="6" fill="#f23645"/>
<rect x="1042" y="217" width="3" height="4" fill="#f23645"/>
<rect x="1047" y="215" width="1" height="15" fill="#f23645"/>
<rect x="1046" y="220" width="3" height="9" fill="#f23645"/>
<rect x="1050" y="225" width="1" height="8" fill="#f23645"/>
<rect x="1049" y="228" width="3" height="4" fill="#f23645"/>
<rect x="1054" y="228" width="1" height="10" fill="#f23645"/>
<rect x="1053" y="231" width="3" height="6" fill="#f23645"/>
<rect x="1057" y="227" width="1" height="12" fill="#089981"/>
<rect x="1056" y="229" width="3" height="8" fill="#089981"/>
<rect x="1060" y="221" width="1" height="19" fill="#089981"/>
<rect x="1059" y="223" width="3" height="7" fill="#089981"/>
<rect x="1064" y="212" width="1" height="16" fill="#089981"/>
<rect x="1063" y="214" width="3" height="9" fill="#089981"/>
<rect x="1067" y="205" width="1" height="10" fill="#089981"/>
<rect x="1066" y="206" width="3" height="9" fill="#089981"/>
<rect x="1070" y="203" width="1" height="9" fill="#f23645"/>
<rect x="1069" y="206" width="3" height="5" fill="#f23645"/>
<rect x="1074" y="197" width="1" height="17" fill="#089981"/>
<rect x="1073" y="198" width="3" height="13" fill="#089981"/>
<rect x="1077" y="196" width="1" height="10" fill="#f23645"/>
<rect x="1076" y="198" width="3" height="4" fill="#f23645"/>
<rect x="1081" y="196" width="1" height="7" fill="#f23645"/>
<rect x="1080" y="201" width="3" height="1" fill="#f23645"/>
<rect x="1084" y="198" width="1" height="12" fill="#f23645"/>
<rect x="1083" y="202" width="3" height="6" fill="#f23645"/>
<rect x="1086" y="191" width="3" height="17" fill="#089981"/>
<rect x="1091" y="190" width="1" height="10" fill="#f23645"/>
<rect x="1090" y="191" width="3" height="4" fill="#f23645"/>
<rect x="1094" y="193" width="1" height="9" fill="#f23645"/>
<rect x="1093" y="195" width="3" height="1" fill="#f23645"/>
<rect x="1097" y="190" width="1" height="11" fill="#f23645"/>
<rect x="1096" y="195" width="3" height="5" fill="#f23645"/>
<rect x="1101" y="194" width="1" height="13" fill="#f23645"/>
<rect x="1100" y="200" width="3" height="7" fill="#f23645"/>
<rect x="1104" y="200" width="1" height="8" fill="#089981"/>
<rect x="1103" y="205" width="3" height="1" fill="#089981"/>
<rect x="1108" y="195" width="1" height="14" fill="#089981"/>
<rect x="1107" y="196" width="3" height="10" fill="#089981"/>
<rect x="1110" y="184" width="3" height="13" fill="#089981"/>
<rect x="1114" y="182" width="1" height="7" fill="#f23645"/>
<rect x="1113" y="184" width="3" height="3" fill="#f23645"/>
<rect x="1118" y="183" width="1" height="7" fill="#089981"/>
<rect x="1117" y="184" width="3" height="3" fill="#089981"/>
<rect x="1121" y="179" width="1" height="6" fill="#089981"/>
<rect x="1120" y="183" width="3" height="2" fill="#089981"/>
<rect x="1124" y="182" width="1" height="11" fill="#f23645"/>
<rect x="1123" y="183" width="3" height="10" fill="#f23645"/>
<rect x="1128" y="184" width="1" height="10" fill="#089981"/>
<rect x="1127" y="186" width="3" height="7" fill="#089981"/>
<rect x="1131" y="184" width="1" height="14" fill="#f23645"/>
<rect x="1130" y="186" width="3" height="11" fill="#f23645"/>
<rect x="1135" y="185" width="1" height="13" fill="#089981"/>
<rect x="1134" y="185" width="3" height="12" fill="#089981"/>
<rect x="1138" y="184" width="1" height="5" fill="#f23645"/>
<rect x="1137" y="185" width="3" height="1" fill="#f23645"/>
<rect x="1141" y="183" width="1" height="8" fill="#f23645"/>
<rect x="1140" y="186" width="3" height="1" fill="#f23645"/>
<rect x="1144" y="186" width="3" height="10" fill="#f23645"/>
<rect x="1148" y="189" width="1" height="7" fill="#089981"/>
<rect x="1147" y="194" width="3" height="1" fill="#089981"/>
<rect x="1152" y="185" width="1" height="12" fill="#089981"/>
<rect x="1151" y="186" width="3" height="9" fill="#089981"/>
<rect x="1155" y="179" width="1" height="8" fill="#089981"/>
<rect x="1154" y="184" width="3" height="3" fill="#089981"/>
<rect x="1158" y="176" width="1" height="13" fill="#089981"/>
<rect x="1157" y="181" width="3" height="4" fill="#089981"/>
<rect x="1162" y="178" width="1" height="6" fill="#f23645"/>
<rect x="1161" y="181" width="3" height="1" fill="#f23645"/>
<rect x="1165" y="172" width="1" height="11" fill="#089981"/>
<rect x="1164" y="173" width="3" height="9" fill="#089981"/>
<rect x="1168" y="168" width="1" height="7" fill="#089981"/>
<rect x="1167" y="168" width="3" height="6" fill="#089981"/>
<rect x="1172" y="167" width="1" height="47" fill="#f23645"/>
<rect x="1171" y="168" width="3" height="28" fill="#f23645"/>
<rect x="1175" y="193" width="1" height="14" fill="#f23645"/>
<rect x="1174" y="195" width="3" height="5" fill="#f23645"/>
<rect x="1179" y="193" width="1" height="9" fill="#089981"/>
<rect x="1178" y="198" width="3" height="2" fill="#089981"/>
<rect x="1182" y="195" width="1" height="13" fill="#f23645"/>
<rect x="1181" y="198" width="3" height="8" fill="#f23645"/>
<rect x="1185" y="200" width="1" height="6" fill="#089981"/>
<rect x="1184" y="203" width="3" height="3" fill="#089981"/>
<rect x="1189" y="197" width="1" height="7" fill="#089981"/>
<rect x="1188" y="199" width="3" height="5" fill="#089981"/>
<rect x="1192" y="195" width="1" height="17" fill="#f23645"/>
<rect x="1191" y="199" width="3" height="6" fill="#f23645"/>
<rect x="1195" y="194" width="1" height="12" fill="#089981"/>
<rect x="1194" y="194" width="3" height="11" fill="#089981"/>
<rect x="1199" y="188" width="1" height="8" fill="#089981"/>
<rect x="1198" y="190" width="3" height="5" fill="#089981"/>
<rect x="1202" y="188" width="1" height="7" fill="#f23645"/>
<rect x="1201" y="190" width="3" height="2" fill="#f23645"/>
<rect x="1206" y="189" width="1" height="7" fill="#f23645"/>
<rect x="1205" y="191" width="3" height="3" fill="#f23645"/>
<rect x="1209" y="186" width="1" height="9" fill="#089981"/>
<rect x="1208" y="189" width="3" height="5" fill="#089981"/>
<rect x="1212" y="188" width="1" height="8" fill="#f23645"/>
<rect x="1211" y="189" width="3" height="6" fill="#f23645"/>
<rect x="1216" y="193" width="1" height="23" fill="#f23645"/>
<rect x="1215" y="194" width="3" height="20" fill="#f23645"/>
<rect x="1219" y="210" width="1" height="19" fill="#f23645"/>
<rect x="1218" y="213" width="3" height="12" fill="#f23645"/>
<rect x="1222" y="209" width="1" height="16" fill="#089981"/>
<rect x="1221" y="211" width="3" height="14" fill="#089981"/>
<rect x="1226" y="204" width="1" height="8" fill="#089981"/>
<rect x="1225" y="205" width="3" height="7" fill="#089981"/>
<rect x="1229" y="203" width="1" height="21" fill="#f23645"/>
<rect x="1228" y="205" width="3" height="10" fill="#f23645"/>
<rect x="1233" y="213" width="1" height="7" fill="#f23645"/>
<rect x="1232" y="214" width="3" height="1" fill="#f23645"/>
<rect x="1236" y="209" width="1" height="15" fill="#089981"/>
<rect x="1235" y="213" width="3" height="3" fill="#089981"/>
<rect x="1239" y="207" width="1" height="11" fill="#f23645"/>
<rect x="1238" y="213" width="3" height="5" fill="#f23645"/>
<rect x="1243" y="214" width="1" height="10" fill="#f23645"/>
<rect x="1242" y="217" width="3" height="7" fill="#f23645"/>
<rect x="1246" y="215" width="1" height="9" fill="#089981"/>
<rect x="1245" y="220" width="3" height="4" fill="#089981"/>
<rect x="1249" y="208" width="1" height="13" fill="#089981"/>
<rect x="1248" y="210" width="3" height="11" fill="#089981"/>
<rect x="1253" y="188" width="1" height="23" fill="#089981"/>
<rect x="1252" y="190" width="3" height="21" fill="#089981"/>
<rect x="1255" y="190" width="3" height="3" fill="#f23645"/>
<rect x="1260" y="185" width="1" height="9" fill="#089981"/>
<rect x="1259" y="189" width="3" height="4" fill="#089981"/>
<rect x="1263" y="183" width="1" height="12" fill="#089981"/>
<rect x="1262" y="185" width="3" height="5" fill="#089981"/>
<rect x="1266" y="172" width="1" height="14" fill="#089981"/>
<rect x="1265" y="174" width="3" height="12" fill="#089981"/>
<rect x="1270" y="154" width="1" height="25" fill="#089981"/>
<rect x="1269" y="156" width="3" height="19" fill="#089981"/>
<rect x="1273" y="156" width="1" height="9" fill="#f23645"/>
<rect x="1272" y="156" width="3" height="8" fill="#f23645"/>
<rect x="1277" y="153" width="1" height="11" fill="#089981"/>
<rect x="1276" y="163" width="3" height="1" fill="#089981"/>
<rect x="1280" y="155" width="1" height="9" fill="#089981"/>
<rect x="1279" y="158" width="3" height="6" fill="#089981"/>
<rect x="1283" y="151" width="1" height="11" fill="#f23645"/>
<rect x="1282" y="158" width="3" height="2" fill="#f23645"/>
<rect x="1287" y="145" width="1" height="15" fill="#089981"/>
<rect x="1286" y="146" width="3" height="14" fill="#089981"/>
<rect x="1290" y="145" width="1" height="18" fill="#f23645"/>
<rect x="1289" y="146" width="3" height="8" fill="#f23645"/>
</g>
<clipPath id="mc"><rect x="13" y="435" width="1279.6" height="278"/></clipPath>
<g clip-path="url(#mc)">
<line x1="12.5" y1="578.5" x2="1292" y2="578.5" stroke="#9c9fa8" stroke-width="1" stroke-dasharray="5 6" shape-rendering="crispEdges"/>
<g shape-rendering="crispEdges">
<rect x="12" y="578" width="2" height="1" fill="#26a69a"/>
<rect x="15" y="578" width="2" height="1" fill="#26a69a"/>
<rect x="18" y="578" width="2" height="1" fill="#b2dfdb"/>
<rect x="22" y="578" width="2" height="1" fill="#b2dfdb"/>
<rect x="25" y="578" width="2" height="1" fill="#ff5252"/>
<rect x="28" y="578" width="2" height="1" fill="#26a69a"/>
<rect x="32" y="578" width="2" height="1" fill="#26a69a"/>
<rect x="35" y="578" width="2" height="1" fill="#b2dfdb"/>
<rect x="39" y="578" width="2" height="1" fill="#26a69a"/>
<rect x="42" y="578" width="2" height="1" fill="#26a69a"/>
<rect x="45" y="577" width="2" height="1" fill="#26a69a"/>
<rect x="49" y="577" width="2" height="1" fill="#26a69a"/>
<rect x="52" y="577" width="2" height="1" fill="#26a69a"/>
<rect x="55" y="576" width="2" height="2" fill="#26a69a"/>
<rect x="59" y="576" width="2" height="2" fill="#b2dfdb"/>
<rect x="62" y="577" width="2" height="1" fill="#b2dfdb"/>
<rect x="66" y="577" width="2" height="1" fill="#26a69a"/>
<rect x="69" y="577" width="2" height="1" fill="#b2dfdb"/>
<rect x="72" y="578" width="2" height="1" fill="#b2dfdb"/>
<rect x="76" y="578" width="2" height="1" fill="#26a69a"/>
<rect x="79" y="577" width="2" height="1" fill="#26a69a"/>
<rect x="83" y="577" width="2" height="1" fill="#26a69a"/>
<rect x="86" y="576" width="2" height="2" fill="#26a69a"/>
<rect x="89" y="575" width="2" height="3" fill="#26a69a"/>
<rect x="93" y="575" width="2" height="3" fill="#b2dfdb"/>
<rect x="96" y="575" width="2" height="3" fill="#26a69a"/>
<rect x="99" y="575" width="2" height="3" fill="#b2dfdb"/>
<rect x="103" y="575" width="2" height="3" fill="#b2dfdb"/>
<rect x="106" y="575" width="2" height="3" fill="#26a69a"/>
<rect x="110" y="576" width="2" height="2" fill="#b2dfdb"/>
<rect x="113" y="576" width="2" height="2" fill="#b2dfdb"/>
<rect x="116" y="576" width="2" height="2" fill="#b2dfdb"/>
<rect x="120" y="577" width="2" height="1" fill="#b2dfdb"/>
<rect x="123" y="577" width="2" height="1" fill="#b2dfdb"/>
<rect x="126" y="578" width="2" height="1" fill="#b2dfdb"/>
<rect x="130" y="578" width="2" height="1" fill="#26a69a"/>
<rect x="133" y="577" width="2" height="1" fill="#26a69a"/>
<rect x="137" y="575" width="2" height="3" fill="#26a69a"/>
<rect x="140" y="575" width="2" height="3" fill="#26a69a"/>
<rect x="143" y="576" width="2" height="2" fill="#b2dfdb"/>
<rect x="147" y="576" width="2" height="2" fill="#26a69a"/>
<rect x="150" y="576" width="2" height="2" fill="#b2dfdb"/>
<rect x="153" y="577" width="2" height="1" fill="#b2dfdb"/>
<rect x="157" y="577" width="2" height="1" fill="#b2dfdb"/>
<rect x="160" y="576" width="2" height="2" fill="#26a69a"/>
<rect x="164" y="576" width="2" height="2" fill="#26a69a"/>
<rect x="167" y="577" width="2" height="1" fill="#b2dfdb"/>
<rect x="170" y="578" width="2" height="1" fill="#b2dfdb"/>
<rect x="174" y="577" width="2" height="1" fill="#26a69a"/>
<rect x="177" y="576" width="2" height="2" fill="#26a69a"/>
<rect x="180" y="575" width="2" height="3" fill="#26a69a"/>
<rect x="184" y="575" width="2" height="3" fill="#26a69a"/>
<rect x="187" y="574" width="2" height="4" fill="#26a69a"/>
<rect x="191" y="574" width="2" height="4" fill="#b2dfdb"/>
<rect x="194" y="575" width="2" height="3" fill="#b2dfdb"/>
<rect x="197" y="576" width="2" height="2" fill="#b2dfdb"/>
<rect x="201" y="576" width="2" height="2" fill="#26a69a"/>
<rect x="204" y="577" width="2" height="1" fill="#b2dfdb"/>
<rect x="208" y="578" width="2" height="2" fill="#ff5252"/>
<rect x="211" y="578" width="2" height="4" fill="#ff5252"/>
<rect x="214" y="578" width="2" height="5" fill="#ff5252"/>
<rect x="218" y="578" width="2" height="4" fill="#ffcdd2"/>
<rect x="221" y="578" width="2" height="2" fill="#ffcdd2"/>
<rect x="224" y="578" width="2" height="2" fill="#ff5252"/>
<rect x="228" y="578" width="2" height="2" fill="#ffcdd2"/>
<rect x="231" y="578" width="2" height="1" fill="#ffcdd2"/>
<rect x="235" y="578" width="2" height="2" fill="#ff5252"/>
<rect x="238" y="578" width="2" height="2" fill="#ffcdd2"/>
<rect x="241" y="578" width="2" height="2" fill="#ffcdd2"/>
<rect x="245" y="578" width="2" height="2" fill="#ff5252"/>
<rect x="248" y="578" width="2" height="4" fill="#ff5252"/>
<rect x="251" y="578" width="2" height="5" fill="#ff5252"/>
<rect x="255" y="578" width="2" height="5" fill="#ff5252"/>
<rect x="258" y="578" width="2" height="6" fill="#ff5252"/>
<rect x="262" y="578" width="2" height="5" fill="#ffcdd2"/>
<rect x="265" y="578" width="2" height="4" fill="#ffcdd2"/>
<rect x="268" y="578" width="2" height="3" fill="#ffcdd2"/>
<rect x="272" y="578" width="2" height="2" fill="#ffcdd2"/>
<rect x="275" y="577" width="2" height="1" fill="#26a69a"/>
<rect x="278" y="573" width="2" height="5" fill="#26a69a"/>
<rect x="282" y="571" width="2" height="7" fill="#26a69a"/>
<rect x="285" y="569" width="2" height="9" fill="#26a69a"/>
<rect x="289" y="569" width="2" height="9" fill="#b2dfdb"/>
<rect x="292" y="571" width="2" height="7" fill="#b2dfdb"/>
<rect x="295" y="571" width="2" height="7" fill="#26a69a"/>
<rect x="299" y="573" width="2" height="5" fill="#b2dfdb"/>
<rect x="302" y="573" width="2" height="5" fill="#b2dfdb"/>
<rect x="305" y="573" width="2" height="5" fill="#26a69a"/>
<rect x="309" y="571" width="2" height="7" fill="#26a69a"/>
<rect x="312" y="570" width="2" height="8" fill="#26a69a"/>
<rect x="316" y="569" width="2" height="9" fill="#26a69a"/>
<rect x="319" y="570" width="2" height="8" fill="#b2dfdb"/>
<rect x="322" y="568" width="2" height="10" fill="#26a69a"/>
<rect x="326" y="569" width="2" height="9" fill="#b2dfdb"/>
<rect x="329" y="569" width="2" height="9" fill="#b2dfdb"/>
<rect x="333" y="566" width="2" height="12" fill="#26a69a"/>
<rect x="336" y="564" width="2" height="14" fill="#26a69a"/>
<rect x="339" y="566" width="2" height="12" fill="#b2dfdb"/>
<rect x="343" y="565" width="2" height="13" fill="#26a69a"/>
<rect x="346" y="562" width="2" height="16" fill="#26a69a"/>
<rect x="349" y="558" width="2" height="20" fill="#26a69a"/>
<rect x="353" y="555" width="2" height="23" fill="#26a69a"/>
<rect x="356" y="556" width="2" height="22" fill="#b2dfdb"/>
<rect x="360" y="562" width="2" height="16" fill="#b2dfdb"/>
<rect x="363" y="571" width="2" height="7" fill="#b2dfdb"/>
<rect x="366" y="578" width="2" height="1" fill="#ff5252"/>
<rect x="370" y="578" width="2" height="2" fill="#ff5252"/>
<rect x="373" y="578" width="2" height="1" fill="#ffcdd2"/>
<rect x="376" y="578" width="2" height="5" fill="#ff5252"/>
<rect x="380" y="578" width="2" height="9" fill="#ff5252"/>
<rect x="383" y="578" width="2" height="12" fill="#ff5252"/>
<rect x="387" y="578" width="2" height="12" fill="#ff5252"/>
<rect x="390" y="578" width="2" height="14" fill="#ff5252"/>
<rect x="393" y="578" width="2" height="16" fill="#ff5252"/>
<rect x="397" y="578" width="2" height="23" fill="#ff5252"/>
<rect x="400" y="578" width="2" height="24" fill="#ff5252"/>
<rect x="403" y="578" width="2" height="25" fill="#ff5252"/>
<rect x="407" y="578" width="2" height="25" fill="#ffcdd2"/>
<rect x="410" y="578" width="2" height="24" fill="#ffcdd2"/>
<rect x="414" y="578" width="2" height="22" fill="#ffcdd2"/>
<rect x="417" y="578" width="2" height="23" fill="#ff5252"/>
<rect x="420" y="578" width="2" height="18" fill="#ffcdd2"/>
<rect x="424" y="578" width="2" height="14" fill="#ffcdd2"/>
<rect x="427" y="578" width="2" height="10" fill="#ffcdd2"/>
<rect x="430" y="578" width="2" height="9" fill="#ffcdd2"/>
<rect x="434" y="578" width="2" height="8" fill="#ffcdd2"/>
<rect x="437" y="578" width="2" height="4" fill="#ffcdd2"/>
<rect x="441" y="576" width="2" height="2" fill="#26a69a"/>
<rect x="444" y="574" width="2" height="4" fill="#26a69a"/>
<rect x="447" y="571" width="2" height="7" fill="#26a69a"/>
<rect x="451" y="568" width="2" height="10" fill="#26a69a"/>
<rect x="454" y="568" width="2" height="10" fill="#26a69a"/>
<rect x="458" y="558" width="2" height="20" fill="#26a69a"/>
<rect x="461" y="553" width="2" height="25" fill="#26a69a"/>
<rect x="464" y="554" width="2" height="24" fill="#b2dfdb"/>
<rect x="468" y="551" width="2" height="27" fill="#26a69a"/>
<rect x="471" y="553" width="2" height="25" fill="#b2dfdb"/>
<rect x="474" y="555" width="2" height="23" fill="#b2dfdb"/>
<rect x="478" y="557" width="2" height="21" fill="#b2dfdb"/>
<rect x="481" y="561" width="2" height="17" fill="#b2dfdb"/>
<rect x="485" y="563" width="2" height="15" fill="#b2dfdb"/>
<rect x="488" y="561" width="2" height="17" fill="#26a69a"/>
<rect x="491" y="563" width="2" height="15" fill="#b2dfdb"/>
<rect x="495" y="559" width="2" height="19" fill="#26a69a"/>
<rect x="498" y="559" width="2" height="19" fill="#26a69a"/>
<rect x="501" y="558" width="2" height="20" fill="#26a69a"/>
<rect x="505" y="565" width="2" height="13" fill="#b2dfdb"/>
<rect x="508" y="578" width="2" height="1" fill="#b2dfdb"/>
<rect x="512" y="578" width="2" height="7" fill="#ff5252"/>
<rect x="515" y="578" width="2" height="16" fill="#ff5252"/>
<rect x="518" y="578" width="2" height="23" fill="#ff5252"/>
<rect x="522" y="578" width="2" height="27" fill="#ff5252"/>
<rect x="525" y="578" width="2" height="31" fill="#ff5252"/>
<rect x="528" y="578" width="2" height="25" fill="#ffcdd2"/>
<rect x="532" y="578" width="2" height="23" fill="#ffcdd2"/>
<rect x="535" y="578" width="2" height="18" fill="#ffcdd2"/>
<rect x="539" y="578" width="2" height="18" fill="#ffcdd2"/>
<rect x="542" y="578" width="2" height="17" fill="#ffcdd2"/>
<rect x="545" y="578" width="2" height="15" fill="#ffcdd2"/>
<rect x="549" y="578" width="2" height="11" fill="#ffcdd2"/>
<rect x="552" y="578" width="2" height="6" fill="#ffcdd2"/>
<rect x="556" y="578" width="2" height="1" fill="#26a69a"/>
<rect x="559" y="573" width="2" height="5" fill="#26a69a"/>
<rect x="562" y="568" width="2" height="10" fill="#26a69a"/>
<rect x="566" y="566" width="2" height="12" fill="#26a69a"/>
<rect x="569" y="561" width="2" height="17" fill="#26a69a"/>
<rect x="572" y="562" width="2" height="16" fill="#b2dfdb"/>
<rect x="576" y="569" width="2" height="9" fill="#b2dfdb"/>
<rect x="579" y="573" width="2" height="5" fill="#b2dfdb"/>
<rect x="583" y="573" width="2" height="5" fill="#b2dfdb"/>
<rect x="586" y="575" width="2" height="3" fill="#b2dfdb"/>
<rect x="589" y="577" width="2" height="1" fill="#b2dfdb"/>
<rect x="593" y="578" width="2" height="1" fill="#ff5252"/>
<rect x="596" y="578" width="2" height="4" fill="#ff5252"/>
<rect x="599" y="578" width="2" height="11" fill="#ff5252"/>
<rect x="603" y="578" width="2" height="15" fill="#ff5252"/>
<rect x="606" y="578" width="2" height="20" fill="#ff5252"/>
<rect x="610" y="578" width="2" height="24" fill="#ff5252"/>
<rect x="613" y="578" width="2" height="20" fill="#ffcdd2"/>
<rect x="616" y="578" width="2" height="16" fill="#ffcdd2"/>
<rect x="620" y="578" width="2" height="13" fill="#ffcdd2"/>
<rect x="623" y="578" width="2" height="8" fill="#ffcdd2"/>
<rect x="626" y="578" width="2" height="4" fill="#ffcdd2"/>
<rect x="630" y="578" width="2" height="1" fill="#ffcdd2"/>
<rect x="633" y="577" width="2" height="1" fill="#26a69a"/>
<rect x="637" y="576" width="2" height="2" fill="#26a69a"/>
<rect x="640" y="578" width="2" height="1" fill="#ff5252"/>
<rect x="643" y="578" width="2" height="1" fill="#ff5252"/>
<rect x="647" y="578" width="2" height="1" fill="#26a69a"/>
<rect x="650" y="578" width="2" height="2" fill="#ff5252"/>
<rect x="653" y="578" width="2" height="6" fill="#ff5252"/>
<rect x="657" y="578" width="2" height="5" fill="#ffcdd2"/>
<rect x="660" y="578" width="2" height="4" fill="#ffcdd2"/>
<rect x="664" y="578" width="2" height="2" fill="#ffcdd2"/>
<rect x="667" y="578" width="2" height="1" fill="#26a69a"/>
<rect x="670" y="578" width="2" height="1" fill="#26a69a"/>
<rect x="674" y="572" width="2" height="6" fill="#26a69a"/>
<rect x="677" y="571" width="2" height="7" fill="#26a69a"/>
<rect x="681" y="570" width="2" height="8" fill="#26a69a"/>
<rect x="684" y="573" width="2" height="5" fill="#b2dfdb"/>
<rect x="687" y="577" width="2" height="1" fill="#b2dfdb"/>
<rect x="691" y="578" width="2" height="8" fill="#ff5252"/>
<rect x="694" y="578" width="2" height="14" fill="#ff5252"/>
<rect x="697" y="578" width="2" height="16" fill="#ff5252"/>
<rect x="701" y="578" width="2" height="20" fill="#ff5252"/>
<rect x="704" y="578" width="2" height="25" fill="#ff5252"/>
<rect x="708" y="578" width="2" height="28" fill="#ff5252"/>
<rect x="711" y="578" width="2" height="30" fill="#ff5252"/>
<rect x="714" y="578" width="2" height="31" fill="#ff5252"/>
<rect x="718" y="578" width="2" height="23" fill="#ffcdd2"/>
<rect x="721" y="578" width="2" height="15" fill="#ffcdd2"/>
<rect x="724" y="578" width="2" height="10" fill="#ffcdd2"/>
<rect x="728" y="578" width="2" height="7" fill="#ffcdd2"/>
<rect x="731" y="577" width="2" height="1" fill="#26a69a"/>
<rect x="735" y="572" width="2" height="6" fill="#26a69a"/>
<rect x="738" y="571" width="2" height="7" fill="#26a69a"/>
<rect x="741" y="569" width="2" height="9" fill="#26a69a"/>
<rect x="745" y="575" width="2" height="3" fill="#b2dfdb"/>
<rect x="748" y="572" width="2" height="6" fill="#26a69a"/>
<rect x="751" y="572" width="2" height="6" fill="#b2dfdb"/>
<rect x="755" y="571" width="2" height="7" fill="#26a69a"/>
<rect x="758" y="568" width="2" height="10" fill="#26a69a"/>
<rect x="762" y="568" width="2" height="10" fill="#b2dfdb"/>
<rect x="765" y="572" width="2" height="6" fill="#b2dfdb"/>
<rect x="768" y="574" width="2" height="4" fill="#b2dfdb"/>
<rect x="772" y="578" width="2" height="7" fill="#ff5252"/>
<rect x="775" y="578" width="2" height="13" fill="#ff5252"/>
<rect x="778" y="578" width="2" height="16" fill="#ff5252"/>
<rect x="782" y="578" width="2" height="22" fill="#ff5252"/>
<rect x="785" y="578" width="2" height="24" fill="#ff5252"/>
<rect x="789" y="578" width="2" height="29" fill="#ff5252"/>
<rect x="792" y="578" width="2" height="31" fill="#ff5252"/>
<rect x="795" y="578" width="2" height="39" fill="#ff5252"/>
<rect x="799" y="578" width="2" height="36" fill="#ffcdd2"/>
<rect x="802" y="578" width="2" height="36" fill="#ff5252"/>
<rect x="806" y="578" width="2" height="34" fill="#ffcdd2"/>
<rect x="809" y="578" width="2" height="34" fill="#ff5252"/>
<rect x="812" y="578" width="2" height="25" fill="#ffcdd2"/>
<rect x="816" y="578" width="2" height="19" fill="#ffcdd2"/>
<rect x="819" y="578" width="2" height="12" fill="#ffcdd2"/>
<rect x="822" y="578" width="2" height="7" fill="#ffcdd2"/>
<rect x="826" y="578" width="2" height="7" fill="#ffcdd2"/>
<rect x="829" y="578" width="2" height="7" fill="#ff5252"/>
<rect x="833" y="578" width="2" height="4" fill="#ffcdd2"/>
<rect x="836" y="577" width="2" height="1" fill="#26a69a"/>
<rect x="839" y="574" width="2" height="4" fill="#26a69a"/>
<rect x="843" y="570" width="2" height="8" fill="#26a69a"/>
<rect x="846" y="565" width="2" height="13" fill="#26a69a"/>
<rect x="849" y="565" width="2" height="13" fill="#b2dfdb"/>
<rect x="853" y="567" width="2" height="11" fill="#b2dfdb"/>
<rect x="856" y="567" width="2" height="11" fill="#b2dfdb"/>
<rect x="860" y="571" width="2" height="7" fill="#b2dfdb"/>
<rect x="863" y="572" width="2" height="6" fill="#b2dfdb"/>
<rect x="866" y="568" width="2" height="10" fill="#26a69a"/>
<rect x="870" y="566" width="2" height="12" fill="#26a69a"/>
<rect x="873" y="564" width="2" height="14" fill="#26a69a"/>
<rect x="876" y="565" width="2" height="13" fill="#b2dfdb"/>
<rect x="880" y="561" width="2" height="17" fill="#26a69a"/>
<rect x="883" y="557" width="2" height="21" fill="#26a69a"/>
<rect x="887" y="555" width="2" height="23" fill="#26a69a"/>
<rect x="890" y="558" width="2" height="20" fill="#b2dfdb"/>
<rect x="893" y="560" width="2" height="18" fill="#b2dfdb"/>
<rect x="897" y="566" width="2" height="12" fill="#b2dfdb"/>
<rect x="900" y="570" width="2" height="8" fill="#b2dfdb"/>
<rect x="903" y="572" width="2" height="6" fill="#b2dfdb"/>
<rect x="907" y="578" width="2" height="2" fill="#ff5252"/>
<rect x="910" y="578" width="2" height="4" fill="#ff5252"/>
<rect x="914" y="578" width="2" height="4" fill="#ffcdd2"/>
<rect x="917" y="578" width="2" height="2" fill="#ffcdd2"/>
<rect x="920" y="578" width="2" height="5" fill="#ff5252"/>
<rect x="924" y="578" width="2" height="5" fill="#ffcdd2"/>
<rect x="927" y="578" width="2" height="1" fill="#ffcdd2"/>
<rect x="931" y="576" width="2" height="2" fill="#26a69a"/>
<rect x="934" y="572" width="2" height="6" fill="#26a69a"/>
<rect x="937" y="571" width="2" height="7" fill="#26a69a"/>
<rect x="941" y="573" width="2" height="5" fill="#b2dfdb"/>
<rect x="944" y="573" width="2" height="5" fill="#b2dfdb"/>
<rect x="947" y="572" width="2" height="6" fill="#26a69a"/>
<rect x="951" y="571" width="2" height="7" fill="#26a69a"/>
<rect x="954" y="573" width="2" height="5" fill="#b2dfdb"/>
<rect x="958" y="573" width="2" height="5" fill="#b2dfdb"/>
<rect x="961" y="574" width="2" height="4" fill="#b2dfdb"/>
<rect x="964" y="576" width="2" height="2" fill="#b2dfdb"/>
<rect x="968" y="575" width="2" height="3" fill="#26a69a"/>
<rect x="971" y="576" width="2" height="2" fill="#b2dfdb"/>
<rect x="974" y="575" width="2" height="3" fill="#26a69a"/>
<rect x="978" y="576" width="2" height="2" fill="#b2dfdb"/>
<rect x="981" y="577" width="2" height="1" fill="#b2dfdb"/>
<rect x="985" y="578" width="2" height="1" fill="#b2dfdb"/>
<rect x="988" y="578" width="2" height="1" fill="#ff5252"/>
<rect x="991" y="578" width="2" height="3" fill="#ff5252"/>
<rect x="995" y="578" width="2" height="3" fill="#ff5252"/>
<rect x="998" y="578" width="2" height="2" fill="#ffcdd2"/>
<rect x="1001" y="578" width="2" height="3" fill="#ff5252"/>
<rect x="1005" y="578" width="2" height="5" fill="#ff5252"/>
<rect x="1008" y="578" width="2" height="2" fill="#ffcdd2"/>
<rect x="1012" y="578" width="2" height="1" fill="#26a69a"/>
<rect x="1015" y="574" width="2" height="4" fill="#26a69a"/>
<rect x="1018" y="571" width="2" height="7" fill="#26a69a"/>
<rect x="1022" y="568" width="2" height="10" fill="#26a69a"/>
<rect x="1025" y="564" width="2" height="14" fill="#26a69a"/>
<rect x="1028" y="559" width="2" height="19" fill="#26a69a"/>
<rect x="1032" y="555" width="2" height="23" fill="#26a69a"/>
<rect x="1035" y="555" width="2" height="23" fill="#26a69a"/>
<rect x="1039" y="553" width="2" height="25" fill="#26a69a"/>
<rect x="1042" y="554" width="2" height="24" fill="#b2dfdb"/>
<rect x="1045" y="558" width="2" height="20" fill="#b2dfdb"/>
<rect x="1049" y="563" width="2" height="15" fill="#b2dfdb"/>
<rect x="1052" y="569" width="2" height="9" fill="#b2dfdb"/>
<rect x="1056" y="571" width="2" height="7" fill="#b2dfdb"/>
<rect x="1059" y="571" width="2" height="7" fill="#26a69a"/>
<rect x="1062" y="569" width="2" height="9" fill="#26a69a"/>
<rect x="1066" y="566" width="2" height="12" fill="#26a69a"/>
<rect x="1069" y="567" width="2" height="11" fill="#b2dfdb"/>
<rect x="1072" y="564" width="2" height="14" fill="#26a69a"/>
<rect x="1076" y="565" width="2" height="13" fill="#b2dfdb"/>
<rect x="1079" y="566" width="2" height="12" fill="#b2dfdb"/>
<rect x="1083" y="570" width="2" height="8" fill="#b2dfdb"/>
<rect x="1086" y="569" width="2" height="9" fill="#26a69a"/>
<rect x="1089" y="570" width="2" height="8" fill="#b2dfdb"/>
<rect x="1093" y="572" width="2" height="6" fill="#b2dfdb"/>
<rect x="1096" y="575" width="2" height="3" fill="#b2dfdb"/>
<rect x="1099" y="578" width="2" height="2" fill="#ff5252"/>
<rect x="1103" y="578" width="2" height="5" fill="#ff5252"/>
<rect x="1106" y="578" width="2" height="4" fill="#ffcdd2"/>
<rect x="1110" y="578" width="2" height="1" fill="#ffcdd2"/>
<rect x="1113" y="578" width="2" height="1" fill="#26a69a"/>
<rect x="1116" y="577" width="2" height="1" fill="#26a69a"/>
<rect x="1120" y="577" width="2" height="1" fill="#26a69a"/>
<rect x="1123" y="578" width="2" height="2" fill="#ff5252"/>
<rect x="1126" y="578" width="2" height="2" fill="#ff5252"/>
<rect x="1130" y="578" width="2" height="6" fill="#ff5252"/>
<rect x="1133" y="578" width="2" height="6" fill="#ffcdd2"/>
<rect x="1137" y="578" width="2" height="5" fill="#ffcdd2"/>
<rect x="1140" y="578" width="2" height="6" fill="#ff5252"/>
<rect x="1143" y="578" width="2" height="9" fill="#ff5252"/>
<rect x="1147" y="578" width="2" height="11" fill="#ff5252"/>
<rect x="1150" y="578" width="2" height="9" fill="#ffcdd2"/>
<rect x="1153" y="578" width="2" height="7" fill="#ffcdd2"/>
<rect x="1157" y="578" width="2" height="5" fill="#ffcdd2"/>
<rect x="1160" y="578" width="2" height="5" fill="#ffcdd2"/>
<rect x="1164" y="578" width="2" height="1" fill="#ffcdd2"/>
<rect x="1167" y="576" width="2" height="2" fill="#26a69a"/>
<rect x="1170" y="578" width="2" height="5" fill="#ff5252"/>
<rect x="1174" y="578" width="2" height="11" fill="#ff5252"/>
<rect x="1177" y="578" width="2" height="14" fill="#ff5252"/>
<rect x="1181" y="578" width="2" height="18" fill="#ff5252"/>
<rect x="1184" y="578" width="2" height="18" fill="#ff5252"/>
<rect x="1187" y="578" width="2" height="17" fill="#ffcdd2"/>
<rect x="1191" y="578" width="2" height="17" fill="#ff5252"/>
<rect x="1194" y="578" width="2" height="13" fill="#ffcdd2"/>
<rect x="1197" y="578" width="2" height="9" fill="#ffcdd2"/>
<rect x="1201" y="578" width="2" height="7" fill="#ffcdd2"/>
<rect x="1204" y="578" width="2" height="5" fill="#ffcdd2"/>
<rect x="1208" y="578" width="2" height="3" fill="#ffcdd2"/>
<rect x="1211" y="578" width="2" height="3" fill="#ff5252"/>
<rect x="1214" y="578" width="2" height="9" fill="#ff5252"/>
<rect x="1218" y="578" width="2" height="16" fill="#ff5252"/>
<rect x="1221" y="578" width="2" height="15" fill="#ffcdd2"/>
<rect x="1224" y="578" width="2" height="12" fill="#ffcdd2"/>
<rect x="1228" y="578" width="2" height="12" fill="#ff5252"/>
<rect x="1231" y="578" width="2" height="12" fill="#ffcdd2"/>
<rect x="1235" y="578" width="2" height="10" fill="#ffcdd2"/>
<rect x="1238" y="578" width="2" height="10" fill="#ffcdd2"/>
<rect x="1241" y="578" width="2" height="11" fill="#ff5252"/>
<rect x="1245" y="578" width="2" height="10" fill="#ffcdd2"/>
<rect x="1248" y="578" width="2" height="5" fill="#ffcdd2"/>
<rect x="1251" y="574" width="2" height="4" fill="#26a69a"/>
<rect x="1255" y="569" width="2" height="9" fill="#26a69a"/>
<rect x="1258" y="565" width="2" height="13" fill="#26a69a"/>
<rect x="1262" y="562" width="2" height="16" fill="#26a69a"/>
<rect x="1265" y="558" width="2" height="20" fill="#26a69a"/>
<rect x="1268" y="550" width="2" height="28" fill="#26a69a"/>
<rect x="1272" y="550" width="2" height="28" fill="#26a69a"/>
<rect x="1275" y="551" width="2" height="27" fill="#b2dfdb"/>
<rect x="1279" y="551" width="2" height="27" fill="#b2dfdb"/>
<rect x="1282" y="554" width="2" height="24" fill="#b2dfdb"/>
<rect x="1285" y="553" width="2" height="25" fill="#26a69a"/>
<rect x="1289" y="556" width="2" height="22" fill="#b2dfdb"/>
</g>
<path d="M13.0,578.3 L16.3,578.1 L19.7,577.9 L23.1,577.9 L26.5,577.9 L29.9,577.9 L33.2,577.8 L36.6,577.8 L40.0,577.7 L43.4,577.6 L46.7,577.3 L50.1,576.9 L53.5,576.4 L56.9,575.9 L60.3,575.3 L63.6,574.9 L67.0,574.5 L70.4,574.2 L73.8,573.9 L77.2,573.7 L80.5,573.4 L83.9,573.0 L87.3,572.3 L90.7,571.4 L94.0,570.5 L97.4,569.6 L100.8,568.7 L104.2,568.0 L107.6,567.1 L110.9,566.5 L114.3,565.9 L117.7,565.4 L121.1,564.9 L124.5,564.5 L127.8,564.3 L131.2,564.1 L134.6,563.8 L138.0,563.1 L141.3,562.1 L144.7,561.5 L148.1,560.7 L151.5,560.1 L154.9,559.7 L158.2,559.3 L161.6,558.7 L165.0,558.1 L168.4,557.7 L171.8,557.4 L175.1,557.1 L178.5,556.4 L181.9,555.6 L185.3,554.7 L188.6,553.5 L192.0,552.4 L195.4,551.5 L198.8,550.9 L202.2,550.3 L205.5,549.9 L208.9,550.3 L212.3,551.2 L215.7,552.3 L219.1,553.3 L222.4,553.7 L225.8,554.2 L229.2,554.5 L232.6,554.7 L235.9,555.1 L239.3,555.6 L242.7,556.0 L246.1,556.5 L249.5,557.4 L252.8,558.4 L256.2,559.6 L259.6,561.0 L263.0,562.2 L266.4,563.0 L269.7,563.6 L273.1,564.0 L276.5,563.7 L279.9,562.4 L283.2,560.5 L286.6,558.0 L290.0,555.7 L293.4,553.8 L296.8,551.9 L300.1,550.4 L303.5,549.2 L306.9,547.8 L310.3,545.8 L313.6,543.7 L317.0,541.4 L320.4,539.2 L323.8,536.7 L327.2,534.3 L330.5,531.9 L333.9,528.8 L337.3,525.3 L340.7,522.2 L344.1,518.8 L347.4,514.6 L350.8,509.4 L354.2,503.6 L357.6,498.0 L360.9,493.8 L364.3,491.9 L367.7,492.1 L371.1,492.6 L374.5,492.8 L377.8,493.9 L381.2,496.0 L384.6,498.9 L388.0,501.9 L391.4,505.3 L394.7,509.0 L398.1,514.8 L401.5,520.7 L404.9,526.9 L408.2,533.0 L411.6,538.8 L415.0,544.2 L418.4,549.8 L421.8,554.2 L425.1,557.5 L428.5,559.9 L431.9,562.0 L435.3,563.8 L438.7,564.6 L442.0,563.9 L445.4,562.8 L448.8,560.9 L452.2,558.3 L455.5,555.7 L458.9,550.6 L462.3,544.3 L465.7,538.1 L469.1,531.4 L472.4,524.9 L475.8,519.1 L479.2,513.8 L482.6,509.4 L486.0,505.5 L489.3,501.2 L492.7,497.4 L496.1,492.6 L499.5,487.8 L502.8,482.8 L506.2,479.3 L509.6,479.1 L513.0,480.7 L516.4,484.7 L519.7,490.4 L523.1,497.1 L526.5,504.6 L529.9,510.9 L533.3,516.5 L536.6,521.0 L540.0,525.3 L543.4,529.3 L546.8,532.9 L550.1,535.4 L553.5,536.8 L556.9,536.6 L560.3,535.1 L563.7,532.4 L567.0,529.3 L570.4,524.9 L573.8,520.8 L577.2,518.4 L580.6,516.9 L583.9,515.4 L587.3,514.7 L590.7,514.4 L594.1,514.5 L597.4,515.4 L600.8,518.0 L604.2,521.5 L607.6,526.3 L611.0,532.2 L614.3,537.1 L617.7,540.9 L621.1,544.1 L624.5,546.1 L627.9,546.9 L631.2,547.0 L634.6,546.7 L638.0,546.1 L641.4,546.2 L644.7,546.4 L648.1,546.3 L651.5,546.6 L654.9,547.8 L658.3,548.9 L661.6,549.9 L665.0,550.3 L668.4,550.3 L671.8,550.1 L675.1,548.6 L678.5,546.6 L681.9,544.5 L685.3,543.0 L688.7,542.7 L692.0,544.5 L695.4,547.8 L698.8,551.6 L702.2,556.6 L705.6,562.8 L708.9,569.7 L712.3,577.2 L715.7,584.8 L719.1,590.3 L722.4,594.0 L725.8,596.2 L729.2,597.9 L732.6,597.5 L736.0,595.9 L739.3,593.9 L742.7,591.7 L746.1,590.7 L749.5,589.0 L752.9,587.3 L756.2,585.4 L759.6,582.9 L763.0,580.3 L766.4,578.8 L769.7,577.6 L773.1,579.2 L776.5,582.3 L779.9,586.2 L783.3,591.6 L786.6,597.6 L790.0,604.7 L793.4,612.3 L796.8,621.9 L800.2,630.7 L803.5,639.7 L806.9,648.0 L810.3,656.4 L813.7,662.6 L817.0,667.2 L820.4,670.1 L823.8,671.6 L827.2,673.2 L830.6,674.7 L833.9,675.6 L837.3,675.2 L840.7,674.1 L844.1,672.0 L847.5,668.7 L850.8,665.3 L854.2,662.4 L857.6,659.6 L861.0,657.7 L864.3,656.2 L867.7,653.4 L871.1,650.3 L874.5,646.6 L877.9,643.2 L881.2,638.8 L884.6,633.3 L888.0,627.5 L891.4,622.3 L894.8,617.7 L898.1,614.5 L901.5,612.4 L904.9,610.8 L908.3,611.1 L911.6,612.1 L915.0,613.0 L918.4,613.3 L921.8,614.3 L925.2,615.3 L928.5,615.4 L931.9,614.7 L935.3,613.2 L938.7,611.3 L942.1,609.9 L945.4,608.6 L948.8,607.0 L952.2,605.1 L955.6,603.7 L958.9,602.3 L962.3,601.2 L965.7,600.5 L969.1,599.8 L972.5,599.0 L975.8,598.1 L979.2,597.4 L982.6,597.1 L986.0,596.9 L989.3,597.0 L992.7,597.5 L996.1,598.2 L999.5,598.6 L1002.9,599.3 L1006.2,600.5 L1009.6,600.9 L1013.0,600.7 L1016.4,599.7 L1019.8,597.9 L1023.1,595.3 L1026.5,591.6 L1029.9,586.6 L1033.3,580.8 L1036.6,574.9 L1040.0,568.4 L1043.4,562.2 L1046.8,557.2 L1050.2,553.4 L1053.5,551.0 L1056.9,549.1 L1060.3,547.2 L1063.7,544.8 L1067.1,541.7 L1070.4,538.7 L1073.8,535.1 L1077.2,531.7 L1080.6,528.7 L1083.9,526.7 L1087.3,524.2 L1090.7,522.0 L1094.1,520.4 L1097.5,519.5 L1100.8,519.9 L1104.2,521.0 L1107.6,522.0 L1111.0,522.0 L1114.4,521.8 L1117.7,521.4 L1121.1,520.9 L1124.5,521.3 L1127.9,521.7 L1131.2,523.1 L1134.6,524.4 L1138.0,525.6 L1141.4,527.0 L1144.8,529.2 L1148.1,531.7 L1151.5,533.8 L1154.9,535.5 L1158.3,536.7 L1161.7,537.7 L1165.0,537.9 L1168.4,537.4 L1171.8,538.6 L1175.2,541.2 L1178.5,544.6 L1181.9,548.8 L1185.3,553.3 L1188.7,557.4 L1192.1,561.5 L1195.4,564.7 L1198.8,566.9 L1202.2,568.4 L1205.6,569.7 L1209.0,570.4 L1212.3,571.1 L1215.7,573.3 L1219.1,577.2 L1222.5,580.8 L1225.8,583.6 L1229.2,586.5 L1232.6,589.3 L1236.0,591.7 L1239.4,594.0 L1242.7,596.7 L1246.1,599.0 L1249.5,600.3 L1252.9,599.1 L1256.3,596.8 L1259.6,593.5 L1263.0,589.4 L1266.4,584.1 L1269.8,577.1 L1273.1,569.9 L1276.5,562.9 L1279.9,556.1 L1283.3,549.9 L1286.7,543.5 L1290.0,537.9 L1293.4,532.8" fill="none" stroke="#ff6d00" stroke-width="1.1" stroke-linejoin="round"/>
<path d="M13.0,577.5 L16.3,577.3 L19.7,577.4 L23.1,577.5 L26.5,578.2 L29.9,577.9 L33.2,577.6 L36.6,577.7 L40.0,577.5 L43.4,577.0 L46.7,576.2 L50.1,575.3 L53.5,574.5 L56.9,573.6 L60.3,573.2 L63.6,573.3 L67.0,572.8 L70.4,572.9 L73.8,573.0 L77.2,572.7 L80.5,572.3 L83.9,571.6 L87.3,569.4 L90.7,567.8 L94.0,566.9 L97.4,565.8 L100.8,565.4 L104.2,564.9 L107.6,563.6 L110.9,564.0 L114.3,563.6 L117.7,563.3 L121.1,562.9 L124.5,563.1 L127.8,563.5 L131.2,563.1 L134.6,562.8 L138.0,560.0 L141.3,558.4 L144.7,558.8 L148.1,557.9 L151.5,557.5 L154.9,557.9 L158.2,557.6 L161.6,556.4 L165.0,555.8 L168.4,555.9 L171.8,556.4 L175.1,555.7 L178.5,553.8 L181.9,552.1 L185.3,551.0 L188.6,549.1 L192.0,548.0 L195.4,547.9 L198.8,548.4 L202.2,547.7 L205.5,548.4 L208.9,551.9 L212.3,555.0 L215.7,556.8 L219.1,557.3 L222.4,555.2 L225.8,555.9 L229.2,555.8 L232.6,555.5 L235.9,557.0 L239.3,557.4 L242.7,557.6 L246.1,558.4 L249.5,561.0 L252.8,562.6 L256.2,564.5 L259.6,566.6 L263.0,566.7 L266.4,566.4 L269.7,566.0 L273.1,565.8 L276.5,562.4 L279.9,557.1 L283.2,552.9 L286.6,548.2 L290.0,546.3 L293.4,546.3 L296.8,544.3 L300.1,544.5 L303.5,544.1 L306.9,542.2 L310.3,537.8 L313.6,535.4 L317.0,532.4 L320.4,530.4 L323.8,526.7 L327.2,524.3 L330.5,522.3 L333.9,516.6 L337.3,511.3 L340.7,509.6 L344.1,505.4 L347.4,498.0 L350.8,488.5 L354.2,480.2 L357.6,475.9 L360.9,477.0 L364.3,484.2 L367.7,493.0 L371.1,494.6 L374.5,493.7 L377.8,498.4 L381.2,504.5 L384.6,510.2 L388.0,513.8 L391.4,518.8 L394.7,524.1 L398.1,537.7 L401.5,544.4 L404.9,551.9 L408.2,557.2 L411.6,562.1 L415.0,565.5 L418.4,572.2 L421.8,572.0 L425.1,570.5 L428.5,569.5 L431.9,570.6 L435.3,570.9 L438.7,567.6 L442.0,561.4 L445.4,558.1 L448.8,553.2 L452.2,548.1 L455.5,545.4 L458.9,530.3 L462.3,518.8 L465.7,513.6 L469.1,504.2 L472.4,499.2 L475.8,496.0 L479.2,492.4 L482.6,491.9 L486.0,489.9 L489.3,484.1 L492.7,482.0 L496.1,473.6 L499.5,468.5 L502.8,462.7 L506.2,465.5 L509.6,478.1 L513.0,487.4 L516.4,500.6 L519.7,513.2 L523.1,524.0 L526.5,534.7 L529.9,535.7 L533.3,539.3 L536.6,538.8 L540.0,542.6 L543.4,545.3 L546.8,547.2 L550.1,545.5 L553.5,542.3 L556.9,535.6 L560.3,529.3 L563.7,521.5 L567.0,517.1 L570.4,507.1 L573.8,504.2 L577.2,509.0 L580.6,510.9 L583.9,509.6 L587.3,511.5 L590.7,513.4 L594.1,515.1 L597.4,518.9 L600.8,528.4 L604.2,535.6 L607.6,545.5 L611.0,555.4 L614.3,556.7 L617.7,556.5 L621.1,556.9 L624.5,554.1 L627.9,549.9 L631.2,547.4 L634.6,545.6 L638.0,543.8 L641.4,546.6 L644.7,546.9 L648.1,545.9 L651.5,547.8 L654.9,552.9 L658.3,553.3 L661.6,553.8 L665.0,551.8 L668.4,550.2 L671.8,549.5 L675.1,542.4 L678.5,538.9 L681.9,535.8 L685.3,537.2 L688.7,541.5 L692.0,551.7 L695.4,561.1 L698.8,566.9 L702.2,576.4 L705.6,587.6 L708.9,597.5 L712.3,606.8 L715.7,615.3 L719.1,612.5 L722.4,608.5 L725.8,605.2 L729.2,604.5 L732.6,596.1 L736.0,589.3 L739.3,586.2 L742.7,582.7 L746.1,586.9 L749.5,582.1 L752.9,580.6 L756.2,577.7 L759.6,572.7 L763.0,570.3 L766.4,572.6 L769.7,572.6 L773.1,585.5 L776.5,594.9 L779.9,602.0 L783.3,612.9 L786.6,621.6 L790.0,633.1 L793.4,642.7 L796.8,660.3 L800.2,666.1 L803.5,675.6 L806.9,681.3 L810.3,689.8 L813.7,687.6 L817.0,685.7 L820.4,681.4 L823.8,678.0 L827.2,679.2 L830.6,680.9 L833.9,679.0 L837.3,673.5 L840.7,669.7 L844.1,663.9 L847.5,655.2 L850.8,652.0 L854.2,650.8 L857.6,648.5 L861.0,649.8 L864.3,650.1 L867.7,642.6 L871.1,637.6 L874.5,631.7 L877.9,629.7 L881.2,621.2 L884.6,611.4 L888.0,604.3 L891.4,601.5 L894.8,599.5 L898.1,601.8 L901.5,603.6 L904.9,604.5 L908.3,612.3 L911.6,616.0 L915.0,616.5 L918.4,614.5 L921.8,618.5 L925.2,619.4 L928.5,615.5 L931.9,612.3 L935.3,606.9 L938.7,604.0 L942.1,604.2 L945.4,603.4 L948.8,600.8 L952.2,597.4 L955.6,598.0 L958.9,596.8 L962.3,596.7 L965.7,597.8 L969.1,596.7 L972.5,596.2 L975.8,594.3 L979.2,594.9 L982.6,595.7 L986.0,595.9 L989.3,597.7 L992.7,599.6 L996.1,600.7 L999.5,600.4 L1002.9,602.2 L1006.2,605.1 L1009.6,602.6 L1013.0,599.9 L1016.4,595.5 L1019.8,590.6 L1023.1,584.9 L1026.5,576.8 L1029.9,566.6 L1033.3,557.6 L1036.6,551.2 L1040.0,542.5 L1043.4,537.5 L1046.8,536.9 L1050.2,538.2 L1053.5,541.5 L1056.9,541.6 L1060.3,539.6 L1063.7,535.3 L1067.1,529.2 L1070.4,526.9 L1073.8,520.7 L1077.2,518.0 L1080.6,516.7 L1083.9,518.4 L1087.3,514.3 L1090.7,513.4 L1094.1,513.7 L1097.5,516.2 L1100.8,521.3 L1104.2,525.5 L1107.6,525.9 L1111.0,522.2 L1114.4,521.0 L1117.7,519.7 L1121.1,519.0 L1124.5,522.6 L1127.9,523.5 L1131.2,529.0 L1134.6,529.5 L1138.0,530.6 L1141.4,532.5 L1144.8,537.8 L1148.1,541.8 L1151.5,542.1 L1154.9,542.1 L1158.3,541.5 L1161.7,541.7 L1165.0,538.9 L1168.4,535.4 L1171.8,543.5 L1175.2,551.7 L1178.5,557.9 L1181.9,565.9 L1185.3,571.1 L1188.7,573.7 L1192.1,578.2 L1195.4,577.6 L1198.8,575.5 L1202.2,574.6 L1205.6,574.7 L1209.0,573.1 L1212.3,574.1 L1215.7,582.2 L1219.1,592.6 L1222.5,595.3 L1225.8,594.8 L1229.2,598.1 L1232.6,600.4 L1236.0,601.3 L1239.4,603.5 L1242.7,607.3 L1246.1,608.4 L1249.5,605.2 L1252.9,594.7 L1256.3,587.3 L1259.6,580.1 L1263.0,573.0 L1266.4,563.2 L1269.8,548.9 L1273.1,541.0 L1276.5,534.9 L1279.9,528.7 L1283.3,525.3 L1286.7,517.8 L1290.0,515.6 L1293.4,512.3" fill="none" stroke="#2962ff" stroke-width="1.1" stroke-linejoin="round"/>
</g>
<text x="22.8" y="58.5" font-size="15" fill="#1b1b1b" textLength="46.6" lengthAdjust="spacingAndGlyphs" stroke="#1b1b1b" stroke-width="0.25">Bitcoin</text>
<text x="79.2" y="58.5" font-size="15" fill="#1b1b1b" text-anchor="middle" stroke="#1b1b1b" stroke-width="0.25">/</text>
<text x="86.6" y="58.5" font-size="15" fill="#1b1b1b" textLength="60.5" lengthAdjust="spacingAndGlyphs" stroke="#1b1b1b" stroke-width="0.25">TetherUS</text>
<text x="153.2" y="58.5" font-size="15" fill="#1b1b1b" text-anchor="middle" stroke="#1b1b1b" stroke-width="0.25">·</text>
<text x="160.7" y="58.5" font-size="15" fill="#1b1b1b" textLength="18.2" lengthAdjust="spacingAndGlyphs" stroke="#1b1b1b" stroke-width="0.25">1D</text>
<text x="184.5" y="58.5" font-size="15" fill="#1b1b1b" text-anchor="middle" stroke="#1b1b1b" stroke-width="0.25">·</text>
<text x="191.9" y="58.5" font-size="15" fill="#1b1b1b" textLength="56.8" lengthAdjust="spacingAndGlyphs" stroke="#1b1b1b" stroke-width="0.25">BINANCE</text>
<text x="269.8" y="58.5" font-size="15" fill="#1b1b1b" textLength="10" lengthAdjust="spacingAndGlyphs" text-anchor="end" stroke="#1b1b1b" stroke-width="0.25">O</text>
<text x="270" y="58.5" font-size="15" fill="#089981" textLength="66.2" lengthAdjust="spacingAndGlyphs" stroke="#089981" stroke-width="0.25">82,550.00</text>
<text x="355" y="58.5" font-size="15" fill="#1b1b1b" textLength="9.6" lengthAdjust="spacingAndGlyphs" text-anchor="end" stroke="#1b1b1b" stroke-width="0.25">H</text>
<text x="355" y="58.5" font-size="15" fill="#089981" textLength="66.2" lengthAdjust="spacingAndGlyphs" stroke="#089981" stroke-width="0.25">84,504.74</text>
<text x="437.6" y="58.5" font-size="15" fill="#1b1b1b" textLength="7" lengthAdjust="spacingAndGlyphs" text-anchor="end" stroke="#1b1b1b" stroke-width="0.25">L</text>
<text x="437.6" y="58.5" font-size="15" fill="#089981" textLength="66.2" lengthAdjust="spacingAndGlyphs" stroke="#089981" stroke-width="0.25">82,432.74</text>
<text x="521.6" y="58.5" font-size="15" fill="#1b1b1b" textLength="9" lengthAdjust="spacingAndGlyphs" text-anchor="end" stroke="#1b1b1b" stroke-width="0.25">C</text>
<text x="521.7" y="58.5" font-size="15" fill="#089981" textLength="66.2" lengthAdjust="spacingAndGlyphs" stroke="#089981" stroke-width="0.25">83,878.48</text>
<text x="596.8" y="58.5" font-size="15" fill="#089981" textLength="66.4" lengthAdjust="spacingAndGlyphs" stroke="#089981" stroke-width="0.25">+1,328.47</text>
<text x="666.9" y="58.5" font-size="15" fill="#089981" textLength="57.4" lengthAdjust="spacingAndGlyphs" stroke="#089981" stroke-width="0.25">(+1.61%)</text>
<text x="22.4" y="459.4" font-size="15" fill="#1b1b1b" textLength="37.3" lengthAdjust="spacingAndGlyphs" stroke="#1b1b1b" stroke-width="0.25">MACD</text>
<text x="66.3" y="459.4" font-size="15" fill="#1b1b1b" textLength="95.7" lengthAdjust="spacingAndGlyphs" stroke="#1b1b1b" stroke-width="0.25">(12, 26, close)</text>
<text x="171.8" y="459.4" font-size="15" fill="#26a69a" textLength="35.8" lengthAdjust="spacingAndGlyphs" stroke="#26a69a" stroke-width="0.25">59.04</text>
<text x="217.7" y="459.4" font-size="15" fill="#2962ff" textLength="64.2" lengthAdjust="spacingAndGlyphs" stroke="#2962ff" stroke-width="0.25">−1,075.01</text>
<text x="292.5" y="459.4" font-size="15" fill="#ff6d00" textLength="65" lengthAdjust="spacingAndGlyphs" stroke="#ff6d00" stroke-width="0.25">−1,134.05</text>
<rect x="155" y="412" width="68" height="18" fill="#e3f0e2"/>
<text x="157.2" y="425.6" font-size="14" fill="#66bb6a" textLength="62.3" lengthAdjust="spacingAndGlyphs" stroke="#66bb6a" stroke-width="0.25">Histogram</text>
<rect x="233" y="417" width="40" height="17" fill="#e0ecfc"/>
<text x="235" y="430.4" font-size="14" fill="#5b9cf6" textLength="34.2" lengthAdjust="spacingAndGlyphs" stroke="#5b9cf6" stroke-width="0.25">MACD</text>
<rect x="287" y="412" width="43" height="18" fill="#fef1e1"/>
<text x="289.3" y="425.6" font-size="14" fill="#fbb04e" textLength="35.8" lengthAdjust="spacingAndGlyphs" stroke="#fbb04e" stroke-width="0.25">Signal</text>
<text x="1303.6" y="417.8" font-size="15" fill="#1b1b1b" textLength="28.8" lengthAdjust="spacingAndGlyphs" stroke="#1b1b1b" stroke-width="0.25">0.00</text>
<text x="1303.6" y="370.0" font-size="15" fill="#1b1b1b" textLength="65.4" lengthAdjust="spacingAndGlyphs" stroke="#1b1b1b" stroke-width="0.25">10,000.00</text>
<text x="1303.6" y="324.0" font-size="15" fill="#1b1b1b" textLength="65.4" lengthAdjust="spacingAndGlyphs" stroke="#1b1b1b" stroke-width="0.25">20,000.00</text>
<text x="1303.6" y="278.0" font-size="15" fill="#1b1b1b" textLength="65.4" lengthAdjust="spacingAndGlyphs" stroke="#1b1b1b" stroke-width="0.25">30,000.00</text>
<text x="1303.6" y="231.0" font-size="15" fill="#1b1b1b" textLength="65.4" lengthAdjust="spacingAndGlyphs" stroke="#1b1b1b" stroke-width="0.25">40,000.00</text>
<text x="1303.6" y="185.0" font-size="15" fill="#1b1b1b" textLength="65.4" lengthAdjust="spacingAndGlyphs" stroke="#1b1b1b" stroke-width="0.25">50,000.00</text>
<text x="1303.6" y="139.0" font-size="15" fill="#1b1b1b" textLength="65.4" lengthAdjust="spacingAndGlyphs" stroke="#1b1b1b" stroke-width="0.25">60,000.00</text>
<text x="1303.6" y="92.0" font-size="15" fill="#1b1b1b" textLength="65.4" lengthAdjust="spacingAndGlyphs" stroke="#1b1b1b" stroke-width="0.25">70,000.00</text>
<clipPath id="ax6"><rect x="1293" y="690" width="89" height="23"/></clipPath>
<g clip-path="url(#ax6)">
<text x="1303.6" y="713.8" font-size="15" fill="#1b1b1b" textLength="65.4" lengthAdjust="spacingAndGlyphs" stroke="#1b1b1b" stroke-width="0.25">−6,000.00</text>
</g>
<text x="1303.6" y="669.8" font-size="15" fill="#1b1b1b" textLength="65.4" lengthAdjust="spacingAndGlyphs" stroke="#1b1b1b" stroke-width="0.25">−4,000.00</text>
<text x="1303.6" y="625.8" font-size="15" fill="#1b1b1b" textLength="65.4" lengthAdjust="spacingAndGlyphs" stroke="#1b1b1b" stroke-width="0.25">−2,000.00</text>
<text x="1303.6" y="583.7" font-size="15" fill="#1b1b1b" textLength="28.8" lengthAdjust="spacingAndGlyphs" stroke="#1b1b1b" stroke-width="0.25">0.00</text>
<text x="1303.6" y="537.8" font-size="15" fill="#1b1b1b" textLength="57.6" lengthAdjust="spacingAndGlyphs" stroke="#1b1b1b" stroke-width="0.25">2,000.00</text>
<text x="1303.6" y="493.8" font-size="15" fill="#1b1b1b" textLength="57.6" lengthAdjust="spacingAndGlyphs" stroke="#1b1b1b" stroke-width="0.25">4,000.00</text>
<text x="1303.6" y="449.8" font-size="15" fill="#1b1b1b" textLength="57.6" lengthAdjust="spacingAndGlyphs" stroke="#1b1b1b" stroke-width="0.25">6,000.00</text>
<path d="M1293 35H1374a2 2 0 0 1 2 2V72a2 2 0 0 1 -2 2H1293Z" fill="#089981"/>
<text x="1304" y="49.9" font-size="15" fill="#fff" textLength="65.6" lengthAdjust="spacingAndGlyphs" stroke="#fff" stroke-width="0.25">83,878.48</text>
<text x="1304.6" y="67.7" font-size="15" fill="#fff" textLength="57.4" lengthAdjust="spacingAndGlyphs" stroke="#fff" stroke-width="0.25" fill-opacity="0.72">12:04:50</text>
<rect x="1293.5" y="143.5" width="82" height="20" rx="2" fill="#fff" stroke="#f23645"/>
<text x="1304.4" y="157.7" font-size="15" fill="#f23645" textLength="64.8" lengthAdjust="spacingAndGlyphs" stroke="#f23645" stroke-width="0.25">55,996.93</text>
<rect x="1293.5" y="503.5" width="74" height="20" rx="2" fill="#fff" stroke="#2962ff"/>
<text x="1304" y="518.1" font-size="15" fill="#2962ff" textLength="57.6" lengthAdjust="spacingAndGlyphs" stroke="#2962ff" stroke-width="0.25">2,833.16</text>
<rect x="1293.5" y="525.5" width="74" height="20" rx="2" fill="#fff" stroke="#ff6d00"/>
<text x="1304" y="540.1" font-size="15" fill="#ff6d00" textLength="57.6" lengthAdjust="spacingAndGlyphs" stroke="#ff6d00" stroke-width="0.25">1,817.30</text>
<rect x="1293.5" y="546.5" width="74" height="20" rx="2" fill="#fff" stroke="#b2dfdb"/>
<text x="1304" y="561.1" font-size="15" fill="#b2dfdb" textLength="57.6" lengthAdjust="spacingAndGlyphs" stroke="#b2dfdb" stroke-width="0.25">1,015.85</text>
<clipPath id="tc"><rect x="13" y="714" width="1279" height="34"/></clipPath>
<g clip-path="url(#tc)">
<text x="19.419999999999998" y="736" font-size="15" fill="#1b1b1b" textLength="23.8" lengthAdjust="spacingAndGlyphs" text-anchor="middle" stroke="#1b1b1b" stroke-width="0.25">Oct</text>
</g>
<text x="124.95349999999999" y="736" font-size="15" fill="#1b1b1b" textLength="25.2" lengthAdjust="spacingAndGlyphs" text-anchor="middle" stroke="#1b1b1b" stroke-width="0.25">Nov</text>
<text x="226.30849999999998" y="736" font-size="15" fill="#1b1b1b" textLength="25" lengthAdjust="spacingAndGlyphs" text-anchor="middle" stroke="#1b1b1b" stroke-width="0.25">Dec</text>
<text x="331.04200000000003" y="736" font-size="15" fill="#1b1b1b" textLength="33.4" lengthAdjust="spacingAndGlyphs" text-anchor="middle" font-weight="bold" stroke="#1b1b1b" stroke-width="0.25">2021</text>
<text x="435.77549999999997" y="736" font-size="15" fill="#1b1b1b" textLength="24.2" lengthAdjust="spacingAndGlyphs" text-anchor="middle" stroke="#1b1b1b" stroke-width="0.25">Feb</text>
<text x="530.3734999999999" y="736" font-size="15" fill="#1b1b1b" textLength="24.4" lengthAdjust="spacingAndGlyphs" text-anchor="middle" stroke="#1b1b1b" stroke-width="0.25">Mar</text>
<text x="635.107" y="736" font-size="15" fill="#1b1b1b" textLength="23.2" lengthAdjust="spacingAndGlyphs" text-anchor="middle" stroke="#1b1b1b" stroke-width="0.25">Apr</text>
<text x="736.462" y="736" font-size="15" fill="#1b1b1b" textLength="26" lengthAdjust="spacingAndGlyphs" text-anchor="middle" stroke="#1b1b1b" stroke-width="0.25">May</text>
<text x="841.1955" y="736" font-size="15" fill="#1b1b1b" textLength="23.6" lengthAdjust="spacingAndGlyphs" text-anchor="middle" stroke="#1b1b1b" stroke-width="0.25">Jun</text>
<text x="942.5504999999999" y="736" font-size="15" fill="#1b1b1b" textLength="19.8" lengthAdjust="spacingAndGlyphs" text-anchor="middle" stroke="#1b1b1b" stroke-width="0.25">Jul</text>
<text x="1047.2839999999999" y="736" font-size="15" fill="#1b1b1b" textLength="24.8" lengthAdjust="spacingAndGlyphs" text-anchor="middle" stroke="#1b1b1b" stroke-width="0.25">Aug</text>
<text x="1152.0175" y="736" font-size="15" fill="#1b1b1b" textLength="24" lengthAdjust="spacingAndGlyphs" text-anchor="middle" stroke="#1b1b1b" stroke-width="0.25">Sep</text>
<text x="1253.3725" y="736" font-size="15" fill="#1b1b1b" textLength="23.8" lengthAdjust="spacingAndGlyphs" text-anchor="middle" stroke="#1b1b1b" stroke-width="0.25">Oct</text>
<g fill="#101010"><path d="M13 763.9H22.75V775.7H18V768.45H13Z"/><circle cx="26.8" cy="766.35" r="2.5"/><path d="M32.4 763.9H37.3L32.4 775.7H27Z"/></g>
<text x="42.1" y="775.7" font-size="15.6" fill="#1b1b1b" textLength="87.4" lengthAdjust="spacingAndGlyphs">TradingView</text>
</svg>
</body></html>
